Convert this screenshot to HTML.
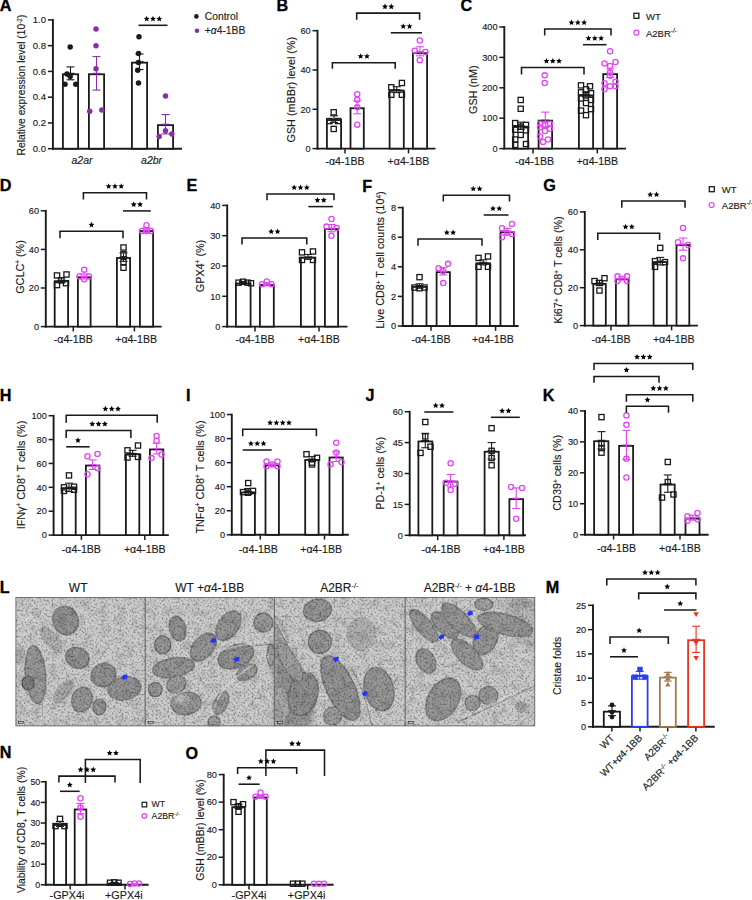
<!DOCTYPE html>
<html><head><meta charset="utf-8"><style>
html,body{margin:0;padding:0;background:#fff;width:752px;height:900px;overflow:hidden}
svg{display:block;font-family:"Liberation Sans", sans-serif}
</style></head><body>
<svg width="752" height="900" viewBox="0 0 752 900">
<rect width="752" height="900" fill="#fff"/>
<defs>
<filter id="spk" x="0" y="0" width="100%" height="100%" filterUnits="userSpaceOnUse" color-interpolation-filters="sRGB">
<feTurbulence type="fractalNoise" baseFrequency="1.1" numOctaves="2" seed="7" result="n"/>
<feColorMatrix in="n" type="matrix" values="0 0 0 0 0  0 0 0 0 0  0 0 0 0 0  8 0 0 0 -5.1" result="a"/>
<feComposite in="a" in2="SourceGraphic" operator="in"/>
</filter>
<filter id="spk2" x="0" y="0" width="100%" height="100%" filterUnits="userSpaceOnUse" color-interpolation-filters="sRGB">
<feTurbulence type="fractalNoise" baseFrequency="0.5" numOctaves="2" seed="21" result="n"/>
<feColorMatrix in="n" type="matrix" values="0 0 0 0 0  0 0 0 0 0  0 0 0 0 0  3.5 0 0 0 -1.6" result="a"/>
<feComposite in="a" in2="SourceGraphic" operator="in"/>
</filter>
<filter id="spk3" x="0" y="0" width="100%" height="100%" filterUnits="userSpaceOnUse" color-interpolation-filters="sRGB">
<feTurbulence type="fractalNoise" baseFrequency="0.12" numOctaves="2" seed="44" result="n"/>
<feColorMatrix in="n" type="matrix" values="0 0 0 0 0  0 0 0 0 0  0 0 0 0 0  3.5 0 0 0 -1.6" result="a"/>
<feComposite in="a" in2="SourceGraphic" operator="in"/>
</filter>
<filter id="bl2" x="-30%" y="-30%" width="160%" height="160%"><feGaussianBlur stdDeviation="2.5"/></filter>
<filter id="bl" x="-30%" y="-30%" width="160%" height="160%"><feGaussianBlur stdDeviation="0.6"/></filter>
<clipPath id="temclip"><rect x="15.6" y="597.3" width="519.5" height="128.9"/></clipPath>
</defs>
<g clip-path="url(#temclip)">
<rect x="15.6" y="597.3" width="519.5" height="128.9" fill="#cfcfcf"/>
<polygon points="274.7,620 283,640 295,658 306,676 314,700 312,726 274.7,726" fill="rgb(149,149,149)" filter="url(#bl2)"/>
<polygon points="500,600 535,600 535,650 515,640" fill="rgb(186,186,186)" filter="url(#bl2)"/>
<ellipse cx="65.5" cy="620.5" rx="12.5" ry="14.5" transform="rotate(-20 65.5 620.5)" fill="rgb(150,150,150)" stroke="rgb(112,112,112)" stroke-width="1.2" filter="url(#bl)"/>
<ellipse cx="51.3" cy="639.7" rx="16" ry="7" transform="rotate(50 51.3 639.7)" fill="rgb(180,180,180)" filter="url(#bl)"/>
<ellipse cx="77.4" cy="657.9" rx="12" ry="10" transform="rotate(25 77.4 657.9)" fill="rgb(150,150,150)" stroke="rgb(112,112,112)" stroke-width="1.2" filter="url(#bl)"/>
<ellipse cx="35.5" cy="674.7" rx="10" ry="29" transform="rotate(-5 35.5 674.7)" fill="rgb(156,156,156)" stroke="rgb(118,118,118)" stroke-width="1.2" filter="url(#bl)"/>
<ellipse cx="103.5" cy="675" rx="12.5" ry="11.5" transform="rotate(-25 103.5 675)" fill="rgb(150,150,150)" stroke="rgb(112,112,112)" stroke-width="1.2" filter="url(#bl)"/>
<ellipse cx="124.5" cy="688.5" rx="16.5" ry="11.5" transform="rotate(-10 124.5 688.5)" fill="rgb(150,150,150)" stroke="rgb(112,112,112)" stroke-width="1.2" filter="url(#bl)"/>
<ellipse cx="63" cy="691.4" rx="14" ry="7" transform="rotate(-50 63 691.4)" fill="rgb(174,174,174)" filter="url(#bl)"/>
<ellipse cx="82" cy="699.6" rx="10" ry="12.5" transform="rotate(20 82 699.6)" fill="rgb(153,153,153)" stroke="rgb(115,115,115)" stroke-width="1.2" filter="url(#bl)"/>
<ellipse cx="99.4" cy="707" rx="6.5" ry="8" transform="rotate(0 99.4 707)" fill="rgb(156,156,156)" stroke="rgb(118,118,118)" stroke-width="1.2" filter="url(#bl)"/>
<ellipse cx="28" cy="683" rx="6" ry="7" transform="rotate(0 28 683)" fill="rgb(131,131,131)" stroke="rgb(93,93,93)" stroke-width="1.2" filter="url(#bl)"/>
<ellipse cx="20" cy="655" rx="5" ry="10" transform="rotate(0 20 655)" fill="rgb(186,186,186)" filter="url(#bl)"/>
<ellipse cx="177.6" cy="628.5" rx="8" ry="12.5" transform="rotate(-15 177.6 628.5)" fill="rgb(150,150,150)" stroke="rgb(112,112,112)" stroke-width="1.2" filter="url(#bl)"/>
<ellipse cx="162.7" cy="644.9" rx="8" ry="9" transform="rotate(0 162.7 644.9)" fill="rgb(153,153,153)" stroke="rgb(115,115,115)" stroke-width="1.2" filter="url(#bl)"/>
<ellipse cx="173.5" cy="667.6" rx="21" ry="9.5" transform="rotate(-10 173.5 667.6)" fill="rgb(153,153,153)" stroke="rgb(115,115,115)" stroke-width="1.2" filter="url(#bl)"/>
<ellipse cx="203.3" cy="647.1" rx="16" ry="10" transform="rotate(-50 203.3 647.1)" fill="rgb(153,153,153)" stroke="rgb(115,115,115)" stroke-width="1.2" filter="url(#bl)"/>
<ellipse cx="228.4" cy="625.7" rx="16.5" ry="10" transform="rotate(-55 228.4 625.7)" fill="rgb(153,153,153)" stroke="rgb(115,115,115)" stroke-width="1.2" filter="url(#bl)"/>
<ellipse cx="235.9" cy="656.4" rx="18.5" ry="11" transform="rotate(-22 235.9 656.4)" fill="rgb(150,150,150)" stroke="rgb(112,112,112)" stroke-width="1.2" filter="url(#bl)"/>
<ellipse cx="263.3" cy="622.6" rx="9.5" ry="9.5" transform="rotate(0 263.3 622.6)" fill="rgb(156,156,156)" stroke="rgb(118,118,118)" stroke-width="1.2" filter="url(#bl)"/>
<ellipse cx="247" cy="672.3" rx="11" ry="7" transform="rotate(-30 247 672.3)" fill="rgb(159,159,159)" stroke="rgb(121,121,121)" stroke-width="1.2" filter="url(#bl)"/>
<ellipse cx="155.3" cy="689.6" rx="7" ry="7" transform="rotate(0 155.3 689.6)" fill="rgb(153,153,153)" stroke="rgb(115,115,115)" stroke-width="1.2" filter="url(#bl)"/>
<ellipse cx="176.3" cy="684.4" rx="10" ry="8.5" transform="rotate(-30 176.3 684.4)" fill="rgb(162,162,162)" stroke="rgb(124,124,124)" stroke-width="1.2" filter="url(#bl)"/>
<ellipse cx="186.2" cy="703.4" rx="15" ry="11" transform="rotate(-10 186.2 703.4)" fill="rgb(156,156,156)" stroke="rgb(118,118,118)" stroke-width="1.2" filter="url(#bl)"/>
<ellipse cx="221" cy="703" rx="6.5" ry="12" transform="rotate(25 221 703)" fill="rgb(156,156,156)" stroke="rgb(118,118,118)" stroke-width="1.2" filter="url(#bl)"/>
<ellipse cx="271" cy="655" rx="4" ry="11" transform="rotate(0 271 655)" fill="rgb(165,165,165)" stroke="rgb(127,127,127)" stroke-width="1.2" filter="url(#bl)"/>
<ellipse cx="214" cy="722" rx="6" ry="6" transform="rotate(0 214 722)" fill="rgb(159,159,159)" stroke="rgb(121,121,121)" stroke-width="1.2" filter="url(#bl)"/>
<ellipse cx="317.5" cy="610.3" rx="14" ry="11" transform="rotate(-10 317.5 610.3)" fill="rgb(153,153,153)" stroke="rgb(115,115,115)" stroke-width="1.2" filter="url(#bl)"/>
<ellipse cx="319.9" cy="641.9" rx="11.5" ry="11.5" transform="rotate(0 319.9 641.9)" fill="rgb(153,153,153)" stroke="rgb(115,115,115)" stroke-width="1.2" filter="url(#bl)"/>
<ellipse cx="340.4" cy="688.1" rx="14" ry="35" transform="rotate(-25 340.4 688.1)" fill="rgb(150,150,150)" stroke="rgb(112,112,112)" stroke-width="1.2" filter="url(#bl)"/>
<ellipse cx="378.9" cy="689" rx="14.5" ry="22" transform="rotate(-15 378.9 689)" fill="rgb(153,153,153)" stroke="rgb(115,115,115)" stroke-width="1.2" filter="url(#bl)"/>
<ellipse cx="303.1" cy="694" rx="14.5" ry="22" transform="rotate(15 303.1 694)" fill="rgb(147,147,147)" stroke="rgb(109,109,109)" stroke-width="1.2" filter="url(#bl)"/>
<ellipse cx="290" cy="662" rx="8" ry="22" transform="rotate(-30 290 662)" fill="rgb(162,162,162)" stroke="rgb(124,124,124)" stroke-width="1.2" filter="url(#bl)"/>
<ellipse cx="281" cy="630" rx="4" ry="16" transform="rotate(-25 281 630)" fill="rgb(177,177,177)" filter="url(#bl)"/>
<ellipse cx="361.2" cy="634.1" rx="15" ry="17" transform="rotate(0 361.2 634.1)" fill="rgb(180,180,180)" filter="url(#bl)"/>
<ellipse cx="332.7" cy="716" rx="9" ry="9" transform="rotate(0 332.7 716)" fill="rgb(159,159,159)" stroke="rgb(121,121,121)" stroke-width="1.2" filter="url(#bl)"/>
<ellipse cx="281" cy="706" rx="7" ry="18" transform="rotate(0 281 706)" fill="rgb(171,171,171)" filter="url(#bl)"/>
<ellipse cx="423.8" cy="625.7" rx="20" ry="7.5" transform="rotate(50 423.8 625.7)" fill="rgb(156,156,156)" stroke="rgb(118,118,118)" stroke-width="1.2" filter="url(#bl)"/>
<ellipse cx="444.7" cy="625.2" rx="17" ry="8" transform="rotate(45 444.7 625.2)" fill="rgb(153,153,153)" stroke="rgb(115,115,115)" stroke-width="1.2" filter="url(#bl)"/>
<ellipse cx="458.6" cy="620.1" rx="22" ry="9" transform="rotate(45 458.6 620.1)" fill="rgb(153,153,153)" stroke="rgb(115,115,115)" stroke-width="1.2" filter="url(#bl)"/>
<ellipse cx="485.6" cy="639.7" rx="16" ry="11" transform="rotate(-60 485.6 639.7)" fill="rgb(153,153,153)" stroke="rgb(115,115,115)" stroke-width="1.2" filter="url(#bl)"/>
<ellipse cx="467" cy="654.6" rx="20" ry="9" transform="rotate(45 467 654.6)" fill="rgb(156,156,156)" stroke="rgb(118,118,118)" stroke-width="1.2" filter="url(#bl)"/>
<ellipse cx="426" cy="661" rx="13" ry="9" transform="rotate(60 426 661)" fill="rgb(156,156,156)" stroke="rgb(118,118,118)" stroke-width="1.2" filter="url(#bl)"/>
<ellipse cx="443.2" cy="699.3" rx="23" ry="15" transform="rotate(-60 443.2 699.3)" fill="rgb(153,153,153)" stroke="rgb(115,115,115)" stroke-width="1.2" filter="url(#bl)"/>
<ellipse cx="472.6" cy="703" rx="7.5" ry="7.5" transform="rotate(0 472.6 703)" fill="rgb(159,159,159)" stroke="rgb(121,121,121)" stroke-width="1.2" filter="url(#bl)"/>
<ellipse cx="488.4" cy="695.5" rx="9.5" ry="9" transform="rotate(0 488.4 695.5)" fill="rgb(159,159,159)" stroke="rgb(121,121,121)" stroke-width="1.2" filter="url(#bl)"/>
<ellipse cx="505.2" cy="624.4" rx="28" ry="10" transform="rotate(15 505.2 624.4)" fill="rgb(156,156,156)" stroke="rgb(118,118,118)" stroke-width="1.2" filter="url(#bl)"/>
<ellipse cx="483.8" cy="604.3" rx="9" ry="6" transform="rotate(0 483.8 604.3)" fill="rgb(165,165,165)" stroke="rgb(127,127,127)" stroke-width="1.2" filter="url(#bl)"/>
<ellipse cx="522" cy="603.4" rx="12" ry="6" transform="rotate(0 522 603.4)" fill="rgb(171,171,171)" filter="url(#bl)"/>
<ellipse cx="521" cy="707" rx="6" ry="6" transform="rotate(0 521 707)" fill="rgb(171,171,171)" filter="url(#bl)"/>
<ellipse cx="181" cy="698" rx="6" ry="4.5" fill="rgb(195,195,195)" filter="url(#bl2)"/>
<ellipse cx="506" cy="675" rx="11" ry="9" fill="rgb(205,205,205)" filter="url(#bl2)"/>
<path d="M34.2,597.5 Q33,618 16,629" fill="none" stroke="#e2e2e2" stroke-width="1.6" opacity="0.6" filter="url(#bl)"/>
<path d="M19.3,613.2 a5.6,5.6 0 1,0 11.2,0 a5.6,5.6 0 1,0 -11.2,0" fill="none" stroke="#e2e2e2" stroke-width="1.6" opacity="0.6" filter="url(#bl)"/>
<path d="M16.5,636 L31.4,631" fill="none" stroke="#e2e2e2" stroke-width="1.6" opacity="0.6" filter="url(#bl)"/>
<path d="M218.2,650.9 Q245,643 270.3,641.5" fill="none" stroke="#e2e2e2" stroke-width="1.6" opacity="0.6" filter="url(#bl)"/>
<path d="M210.8,716 Q220,690 229.4,682.5 Q250,665 268.5,656.4" fill="none" stroke="#e2e2e2" stroke-width="1.6" opacity="0.6" filter="url(#bl)"/>
<path d="M275.6,619.2 Q290,650 307.2,673.2" fill="none" stroke="#e2e2e2" stroke-width="1.6" opacity="0.6" filter="url(#bl)"/>
<path d="M457.8,719.2 Q500,700 534.7,683" fill="none" stroke="#e2e2e2" stroke-width="1.6" opacity="0.6" filter="url(#bl)"/>
<path d="M40,720 Q60,712 80,722" fill="none" stroke="#e2e2e2" stroke-width="1.6" opacity="0.6" filter="url(#bl)"/>
<path d="M220,653 Q245,646 270.3,644" fill="none" stroke="#7c7c7c" stroke-width="0.9" opacity="0.8" filter="url(#bl)"/>
<path d="M350,665.7 Q365,690 371.5,725.3" fill="none" stroke="#7c7c7c" stroke-width="0.9" opacity="0.8" filter="url(#bl)"/>
<path d="M457.8,722 Q500,703 534.7,686" fill="none" stroke="#7c7c7c" stroke-width="0.9" opacity="0.8" filter="url(#bl)"/>
<path d="M277,625 Q292,655 309,678" fill="none" stroke="#7c7c7c" stroke-width="0.9" opacity="0.8" filter="url(#bl)"/>
<rect x="15.6" y="597.3" width="519.5" height="128.9" fill="#000" filter="url(#spk)" opacity="0.2"/>
<rect x="15.6" y="597.3" width="519.5" height="128.9" fill="#fff" filter="url(#spk2)" opacity="0.28"/>
<rect x="15.6" y="597.3" width="519.5" height="128.9" fill="#000" filter="url(#spk3)" opacity="0.1"/>
</g>
<rect x="15.9" y="597.6" width="518.9" height="128.3" fill="none" stroke="#525a68" stroke-width="0.8"/>
<rect x="18.6" y="721.6" width="5" height="1.6" fill="#ddd" stroke="#111" stroke-width="0.6"/>
<line x1="145.2" y1="597.3" x2="145.2" y2="726.2" stroke="#525a68" stroke-width="0.9"/>
<rect x="148.2" y="721.6" width="5" height="1.6" fill="#ddd" stroke="#111" stroke-width="0.6"/>
<line x1="274.4" y1="597.3" x2="274.4" y2="726.2" stroke="#525a68" stroke-width="0.9"/>
<rect x="277.4" y="721.6" width="5" height="1.6" fill="#ddd" stroke="#111" stroke-width="0.6"/>
<line x1="405.2" y1="597.3" x2="405.2" y2="726.2" stroke="#525a68" stroke-width="0.9"/>
<rect x="408.2" y="721.6" width="5" height="1.6" fill="#ddd" stroke="#111" stroke-width="0.6"/>
<polygon points="-2.8,-1.9 0.6,-1.9 -0.6,-3.4 3.2,0.2 0.2,3.4 -0.6,1.9 -2.8,1.9" transform="translate(124.7 676.7) rotate(-40)" fill="#2233ff"/>
<polygon points="-2.8,-1.9 0.6,-1.9 -0.6,-3.4 3.2,0.2 0.2,3.4 -0.6,1.9 -2.8,1.9" transform="translate(213.5 640.3) rotate(-40)" fill="#2233ff"/>
<polygon points="-2.8,-1.9 0.6,-1.9 -0.6,-3.4 3.2,0.2 0.2,3.4 -0.6,1.9 -2.8,1.9" transform="translate(236.8 658.9) rotate(-40)" fill="#2233ff"/>
<polygon points="-2.8,-1.9 0.6,-1.9 -0.6,-3.4 3.2,0.2 0.2,3.4 -0.6,1.9 -2.8,1.9" transform="translate(336.1 658.9) rotate(-40)" fill="#2233ff"/>
<polygon points="-2.8,-1.9 0.6,-1.9 -0.6,-3.4 3.2,0.2 0.2,3.4 -0.6,1.9 -2.8,1.9" transform="translate(365 693.3) rotate(-40)" fill="#2233ff"/>
<polygon points="-2.8,-1.9 0.6,-1.9 -0.6,-3.4 3.2,0.2 0.2,3.4 -0.6,1.9 -2.8,1.9" transform="translate(470.2 613) rotate(-40)" fill="#2233ff"/>
<polygon points="-2.8,-1.9 0.6,-1.9 -0.6,-3.4 3.2,0.2 0.2,3.4 -0.6,1.9 -2.8,1.9" transform="translate(441.5 636.7) rotate(-40)" fill="#2233ff"/>
<polygon points="-2.8,-1.9 0.6,-1.9 -0.6,-3.4 3.2,0.2 0.2,3.4 -0.6,1.9 -2.8,1.9" transform="translate(476.6 636.7) rotate(-40)" fill="#2233ff"/>
<text x="-0.20" y="11.20" font-size="16.2" text-anchor="start" font-weight="bold" font-style="normal" fill="#000" stroke="#000" stroke-width="0.3">A</text>
<line x1="52.90" y1="149.60" x2="52.90" y2="19.00" stroke="#1a1a1a" stroke-width="1.9" stroke-linecap="butt"/>
<line x1="51.95" y1="148.70" x2="182.00" y2="148.70" stroke="#1a1a1a" stroke-width="1.9" stroke-linecap="butt"/>
<line x1="47.90" y1="148.70" x2="52.90" y2="148.70" stroke="#1a1a1a" stroke-width="1.5" stroke-linecap="butt"/>
<text x="46.10" y="151.90" font-size="9.6" text-anchor="end" font-weight="normal" font-style="normal" fill="#1a1a1a" stroke="#1a1a1a" stroke-width="0.14">0.0</text>
<line x1="47.90" y1="122.94" x2="52.90" y2="122.94" stroke="#1a1a1a" stroke-width="1.5" stroke-linecap="butt"/>
<text x="46.10" y="126.14" font-size="9.6" text-anchor="end" font-weight="normal" font-style="normal" fill="#1a1a1a" stroke="#1a1a1a" stroke-width="0.14">0.2</text>
<line x1="47.90" y1="97.18" x2="52.90" y2="97.18" stroke="#1a1a1a" stroke-width="1.5" stroke-linecap="butt"/>
<text x="46.10" y="100.38" font-size="9.6" text-anchor="end" font-weight="normal" font-style="normal" fill="#1a1a1a" stroke="#1a1a1a" stroke-width="0.14">0.4</text>
<line x1="47.90" y1="71.42" x2="52.90" y2="71.42" stroke="#1a1a1a" stroke-width="1.5" stroke-linecap="butt"/>
<text x="46.10" y="74.62" font-size="9.6" text-anchor="end" font-weight="normal" font-style="normal" fill="#1a1a1a" stroke="#1a1a1a" stroke-width="0.14">0.6</text>
<line x1="47.90" y1="45.66" x2="52.90" y2="45.66" stroke="#1a1a1a" stroke-width="1.5" stroke-linecap="butt"/>
<text x="46.10" y="48.86" font-size="9.6" text-anchor="end" font-weight="normal" font-style="normal" fill="#1a1a1a" stroke="#1a1a1a" stroke-width="0.14">0.8</text>
<line x1="47.90" y1="19.90" x2="52.90" y2="19.90" stroke="#1a1a1a" stroke-width="1.5" stroke-linecap="butt"/>
<text x="46.10" y="23.10" font-size="9.6" text-anchor="end" font-weight="normal" font-style="normal" fill="#1a1a1a" stroke="#1a1a1a" stroke-width="0.14">1.0</text>
<text x="24.50" y="85.00" font-size="10.3" text-anchor="middle" font-weight="normal" font-style="normal" fill="#1a1a1a" stroke="#1a1a1a" stroke-width="0.14" transform="rotate(-90 24.50 85.00)">Relative expression level (10<tspan dy="-3" font-size="6.5">-2</tspan><tspan dy="3">)</tspan></text>
<text x="82.00" y="163.90" font-size="10.5" text-anchor="middle" font-weight="normal" font-style="italic" fill="#1a1a1a" stroke="#1a1a1a" stroke-width="0.14">a2ar</text>
<text x="151.60" y="163.90" font-size="10.5" text-anchor="middle" font-weight="normal" font-style="italic" fill="#1a1a1a" stroke="#1a1a1a" stroke-width="0.14">a2br</text>
<rect x="62.90" y="74.25" width="15.20" height="74.45" fill="#fff" stroke="#1a1a1a" stroke-width="1.8"/>
<rect x="88.90" y="74.25" width="15.20" height="74.45" fill="#fff" stroke="#1a1a1a" stroke-width="1.8"/>
<rect x="131.90" y="62.66" width="15.20" height="86.04" fill="#fff" stroke="#1a1a1a" stroke-width="1.8"/>
<rect x="157.90" y="125.13" width="15.20" height="23.57" fill="#fff" stroke="#1a1a1a" stroke-width="1.8"/>
<line x1="70.50" y1="79.79" x2="70.50" y2="66.91" stroke="#1a1a1a" stroke-width="1.1" stroke-linecap="butt"/>
<line x1="66.50" y1="66.91" x2="74.50" y2="66.91" stroke="#1a1a1a" stroke-width="1.1" stroke-linecap="butt"/>
<line x1="66.50" y1="79.79" x2="74.50" y2="79.79" stroke="#1a1a1a" stroke-width="1.1" stroke-linecap="butt"/>
<line x1="66.50" y1="73.35" x2="74.50" y2="73.35" stroke="#1a1a1a" stroke-width="1.1" stroke-linecap="butt"/>
<line x1="96.50" y1="90.10" x2="96.50" y2="56.61" stroke="#8a2ea6" stroke-width="1.1" stroke-linecap="butt"/>
<line x1="92.50" y1="56.61" x2="100.50" y2="56.61" stroke="#8a2ea6" stroke-width="1.1" stroke-linecap="butt"/>
<line x1="92.50" y1="90.10" x2="100.50" y2="90.10" stroke="#8a2ea6" stroke-width="1.1" stroke-linecap="butt"/>
<line x1="92.50" y1="73.35" x2="100.50" y2="73.35" stroke="#8a2ea6" stroke-width="1.1" stroke-linecap="butt"/>
<line x1="139.50" y1="69.49" x2="139.50" y2="54.03" stroke="#1a1a1a" stroke-width="1.1" stroke-linecap="butt"/>
<line x1="135.50" y1="54.03" x2="143.50" y2="54.03" stroke="#1a1a1a" stroke-width="1.1" stroke-linecap="butt"/>
<line x1="135.50" y1="69.49" x2="143.50" y2="69.49" stroke="#1a1a1a" stroke-width="1.1" stroke-linecap="butt"/>
<line x1="135.50" y1="61.76" x2="143.50" y2="61.76" stroke="#1a1a1a" stroke-width="1.1" stroke-linecap="butt"/>
<line x1="165.50" y1="133.89" x2="165.50" y2="114.57" stroke="#8a2ea6" stroke-width="1.1" stroke-linecap="butt"/>
<line x1="161.50" y1="114.57" x2="169.50" y2="114.57" stroke="#8a2ea6" stroke-width="1.1" stroke-linecap="butt"/>
<line x1="161.50" y1="133.89" x2="169.50" y2="133.89" stroke="#8a2ea6" stroke-width="1.1" stroke-linecap="butt"/>
<line x1="161.50" y1="124.23" x2="169.50" y2="124.23" stroke="#8a2ea6" stroke-width="1.1" stroke-linecap="butt"/>
<circle cx="70.20" cy="46.95" r="2.75" fill="#1a1a1a"/>
<circle cx="65.00" cy="84.30" r="2.75" fill="#1a1a1a"/>
<circle cx="70.20" cy="76.57" r="2.75" fill="#1a1a1a"/>
<circle cx="75.80" cy="84.30" r="2.75" fill="#1a1a1a"/>
<circle cx="67.00" cy="74.00" r="2.75" fill="#1a1a1a"/>
<circle cx="96.00" cy="28.92" r="2.75" fill="#8a2ea6"/>
<circle cx="96.00" cy="45.66" r="2.75" fill="#8a2ea6"/>
<circle cx="96.00" cy="68.84" r="2.75" fill="#8a2ea6"/>
<circle cx="89.70" cy="111.35" r="2.75" fill="#8a2ea6"/>
<circle cx="101.80" cy="110.06" r="2.75" fill="#8a2ea6"/>
<circle cx="139.00" cy="36.64" r="2.75" fill="#1a1a1a"/>
<circle cx="138.50" cy="53.39" r="2.75" fill="#1a1a1a"/>
<circle cx="138.50" cy="62.40" r="2.75" fill="#1a1a1a"/>
<circle cx="137.70" cy="70.13" r="2.75" fill="#1a1a1a"/>
<circle cx="138.50" cy="83.01" r="2.75" fill="#1a1a1a"/>
<circle cx="165.50" cy="95.89" r="2.75" fill="#8a2ea6"/>
<circle cx="165.50" cy="130.67" r="2.75" fill="#8a2ea6"/>
<circle cx="159.20" cy="136.46" r="2.75" fill="#8a2ea6"/>
<circle cx="171.80" cy="133.89" r="2.75" fill="#8a2ea6"/>
<line x1="138.50" y1="25.30" x2="167.50" y2="25.30" stroke="#1a1a1a" stroke-width="1.55" stroke-linecap="butt"/>
<polygon points="146.70,15.80 147.54,17.75 149.65,17.94 148.06,19.34 148.52,21.41 146.70,20.33 144.88,21.41 145.34,19.34 143.75,17.94 145.86,17.75" fill="#000"/>
<polygon points="153.00,15.80 153.84,17.75 155.95,17.94 154.36,19.34 154.82,21.41 153.00,20.33 151.18,21.41 151.64,19.34 150.05,17.94 152.16,17.75" fill="#000"/>
<polygon points="159.30,15.80 160.14,17.75 162.25,17.94 160.66,19.34 161.12,21.41 159.30,20.33 157.48,21.41 157.94,19.34 156.35,17.94 158.46,17.75" fill="#000"/>
<circle cx="196.4" cy="16.4" r="2.3" fill="#1a1a1a"/>
<text x="204.80" y="19.80" font-size="10.3" text-anchor="start" font-weight="normal" font-style="normal" fill="#1a1a1a" stroke="#1a1a1a" stroke-width="0.14">Control</text>
<circle cx="197" cy="30.8" r="2.3" fill="#8a2ea6"/>
<text x="204.80" y="34.30" font-size="10.3" text-anchor="start" font-weight="normal" font-style="normal" fill="#1a1a1a" stroke="#1a1a1a" stroke-width="0.14">+<tspan font-style="italic">&#945;</tspan>4-1BB</text>
<text x="276.50" y="11.20" font-size="16.2" text-anchor="start" font-weight="bold" font-style="normal" fill="#000" stroke="#000" stroke-width="0.3">B</text>
<line x1="317.50" y1="149.50" x2="317.50" y2="29.80" stroke="#1a1a1a" stroke-width="1.9" stroke-linecap="butt"/>
<line x1="316.55" y1="148.60" x2="435.50" y2="148.60" stroke="#1a1a1a" stroke-width="1.9" stroke-linecap="butt"/>
<line x1="312.50" y1="148.60" x2="317.50" y2="148.60" stroke="#1a1a1a" stroke-width="1.5" stroke-linecap="butt"/>
<text x="310.70" y="151.80" font-size="9.2" text-anchor="end" font-weight="normal" font-style="normal" fill="#1a1a1a" stroke="#1a1a1a" stroke-width="0.14">0</text>
<line x1="312.50" y1="109.30" x2="317.50" y2="109.30" stroke="#1a1a1a" stroke-width="1.5" stroke-linecap="butt"/>
<text x="310.70" y="112.50" font-size="9.2" text-anchor="end" font-weight="normal" font-style="normal" fill="#1a1a1a" stroke="#1a1a1a" stroke-width="0.14">20</text>
<line x1="312.50" y1="70.00" x2="317.50" y2="70.00" stroke="#1a1a1a" stroke-width="1.5" stroke-linecap="butt"/>
<text x="310.70" y="73.20" font-size="9.2" text-anchor="end" font-weight="normal" font-style="normal" fill="#1a1a1a" stroke="#1a1a1a" stroke-width="0.14">40</text>
<line x1="312.50" y1="30.70" x2="317.50" y2="30.70" stroke="#1a1a1a" stroke-width="1.5" stroke-linecap="butt"/>
<text x="310.70" y="33.90" font-size="9.2" text-anchor="end" font-weight="normal" font-style="normal" fill="#1a1a1a" stroke="#1a1a1a" stroke-width="0.14">60</text>
<line x1="345.00" y1="148.60" x2="345.00" y2="153.40" stroke="#1a1a1a" stroke-width="1.5" stroke-linecap="butt"/>
<line x1="408.50" y1="148.60" x2="408.50" y2="153.40" stroke="#1a1a1a" stroke-width="1.5" stroke-linecap="butt"/>
<text x="345.00" y="164.70" font-size="10.6" text-anchor="middle" font-weight="normal" font-style="normal" fill="#1a1a1a" stroke="#1a1a1a" stroke-width="0.14">-&#945;4-1BB</text>
<text x="408.50" y="164.70" font-size="10.6" text-anchor="middle" font-weight="normal" font-style="normal" fill="#1a1a1a" stroke="#1a1a1a" stroke-width="0.14">+&#945;4-1BB</text>
<text x="295.50" y="89.70" font-size="10.8" text-anchor="middle" font-weight="normal" font-style="normal" fill="#1a1a1a" stroke="#1a1a1a" stroke-width="0.14" transform="rotate(-90 295.50 89.70)">GSH (mBBr) level (%)</text>
<rect x="326.90" y="120.03" width="14.20" height="28.57" fill="#fff" stroke="#1a1a1a" stroke-width="1.8"/>
<rect x="350.50" y="108.23" width="13.30" height="40.37" fill="#fff" stroke="#1a1a1a" stroke-width="1.8"/>
<rect x="389.60" y="90.55" width="14.20" height="58.05" fill="#fff" stroke="#1a1a1a" stroke-width="1.8"/>
<rect x="412.90" y="53.21" width="14.20" height="95.38" fill="#fff" stroke="#1a1a1a" stroke-width="1.8"/>
<line x1="334.00" y1="122.47" x2="334.00" y2="115.78" stroke="#1a1a1a" stroke-width="1.1" stroke-linecap="butt"/>
<line x1="330.00" y1="115.78" x2="338.00" y2="115.78" stroke="#1a1a1a" stroke-width="1.1" stroke-linecap="butt"/>
<line x1="330.00" y1="122.47" x2="338.00" y2="122.47" stroke="#1a1a1a" stroke-width="1.1" stroke-linecap="butt"/>
<line x1="330.00" y1="119.12" x2="338.00" y2="119.12" stroke="#1a1a1a" stroke-width="1.1" stroke-linecap="butt"/>
<line x1="357.20" y1="113.82" x2="357.20" y2="100.85" stroke="#e046f2" stroke-width="1.1" stroke-linecap="butt"/>
<line x1="353.20" y1="100.85" x2="361.20" y2="100.85" stroke="#e046f2" stroke-width="1.1" stroke-linecap="butt"/>
<line x1="353.20" y1="113.82" x2="361.20" y2="113.82" stroke="#e046f2" stroke-width="1.1" stroke-linecap="butt"/>
<line x1="353.20" y1="107.33" x2="361.20" y2="107.33" stroke="#e046f2" stroke-width="1.1" stroke-linecap="butt"/>
<line x1="396.70" y1="92.60" x2="396.70" y2="86.70" stroke="#1a1a1a" stroke-width="1.1" stroke-linecap="butt"/>
<line x1="392.70" y1="86.70" x2="400.70" y2="86.70" stroke="#1a1a1a" stroke-width="1.1" stroke-linecap="butt"/>
<line x1="392.70" y1="92.60" x2="400.70" y2="92.60" stroke="#1a1a1a" stroke-width="1.1" stroke-linecap="butt"/>
<line x1="392.70" y1="89.65" x2="400.70" y2="89.65" stroke="#1a1a1a" stroke-width="1.1" stroke-linecap="butt"/>
<line x1="420.00" y1="55.85" x2="420.00" y2="46.81" stroke="#e046f2" stroke-width="1.1" stroke-linecap="butt"/>
<line x1="416.00" y1="46.81" x2="424.00" y2="46.81" stroke="#e046f2" stroke-width="1.1" stroke-linecap="butt"/>
<line x1="416.00" y1="55.85" x2="424.00" y2="55.85" stroke="#e046f2" stroke-width="1.1" stroke-linecap="butt"/>
<line x1="416.00" y1="51.33" x2="424.00" y2="51.33" stroke="#e046f2" stroke-width="1.1" stroke-linecap="butt"/>
<rect x="331.10" y="109.65" width="5.2" height="5.2" fill="none" stroke="#1a1a1a" stroke-width="1.3"/>
<rect x="326.80" y="118.49" width="5.2" height="5.2" fill="none" stroke="#1a1a1a" stroke-width="1.3"/>
<rect x="335.60" y="118.49" width="5.2" height="5.2" fill="none" stroke="#1a1a1a" stroke-width="1.3"/>
<rect x="331.10" y="126.35" width="5.2" height="5.2" fill="none" stroke="#1a1a1a" stroke-width="1.3"/>
<circle cx="357.20" cy="94.17" r="2.6" fill="none" stroke="#e046f2" stroke-width="1.3"/>
<circle cx="357.20" cy="99.87" r="2.6" fill="none" stroke="#e046f2" stroke-width="1.3"/>
<circle cx="357.20" cy="107.33" r="2.6" fill="none" stroke="#e046f2" stroke-width="1.3"/>
<circle cx="357.20" cy="124.63" r="2.6" fill="none" stroke="#e046f2" stroke-width="1.3"/>
<rect x="388.70" y="84.69" width="5.2" height="5.2" fill="none" stroke="#1a1a1a" stroke-width="1.3"/>
<rect x="399.30" y="80.37" width="5.2" height="5.2" fill="none" stroke="#1a1a1a" stroke-width="1.3"/>
<rect x="388.70" y="92.16" width="5.2" height="5.2" fill="none" stroke="#1a1a1a" stroke-width="1.3"/>
<rect x="399.30" y="92.16" width="5.2" height="5.2" fill="none" stroke="#1a1a1a" stroke-width="1.3"/>
<circle cx="419.80" cy="40.53" r="2.6" fill="none" stroke="#e046f2" stroke-width="1.3"/>
<circle cx="414.80" cy="50.74" r="2.6" fill="none" stroke="#e046f2" stroke-width="1.3"/>
<circle cx="425.40" cy="51.92" r="2.6" fill="none" stroke="#e046f2" stroke-width="1.3"/>
<circle cx="419.80" cy="60.17" r="2.6" fill="none" stroke="#e046f2" stroke-width="1.3"/>
<polyline points="356.70,19.70 356.70,13.10 419.60,13.10 419.60,19.70" fill="none" stroke="#1a1a1a" stroke-width="1.55" stroke-linejoin="miter"/>
<polygon points="385.00,3.60 385.84,5.55 387.95,5.74 386.36,7.14 386.82,9.21 385.00,8.13 383.18,9.21 383.64,7.14 382.05,5.74 384.16,5.55" fill="#000"/>
<polygon points="391.30,3.60 392.14,5.55 394.25,5.74 392.66,7.14 393.12,9.21 391.30,8.13 389.48,9.21 389.94,7.14 388.35,5.74 390.46,5.55" fill="#000"/>
<line x1="390.80" y1="32.80" x2="422.00" y2="32.80" stroke="#1a1a1a" stroke-width="1.55" stroke-linecap="butt"/>
<polygon points="403.25,23.30 404.09,25.25 406.20,25.44 404.61,26.84 405.07,28.91 403.25,27.83 401.43,28.91 401.89,26.84 400.30,25.44 402.41,25.25" fill="#000"/>
<polygon points="409.55,23.30 410.39,25.25 412.50,25.44 410.91,26.84 411.37,28.91 409.55,27.83 407.73,28.91 408.19,26.84 406.60,25.44 408.71,25.25" fill="#000"/>
<polyline points="332.40,68.70 332.40,62.70 395.20,62.70 395.20,68.70" fill="none" stroke="#1a1a1a" stroke-width="1.55" stroke-linejoin="miter"/>
<polygon points="360.65,53.20 361.49,55.15 363.60,55.34 362.01,56.74 362.47,58.81 360.65,57.73 358.83,58.81 359.29,56.74 357.70,55.34 359.81,55.15" fill="#000"/>
<polygon points="366.95,53.20 367.79,55.15 369.90,55.34 368.31,56.74 368.77,58.81 366.95,57.73 365.13,58.81 365.59,56.74 364.00,55.34 366.11,55.15" fill="#000"/>
<text x="460.40" y="11.20" font-size="16.2" text-anchor="start" font-weight="bold" font-style="normal" fill="#000" stroke="#000" stroke-width="0.3">C</text>
<line x1="504.30" y1="149.50" x2="504.30" y2="26.10" stroke="#1a1a1a" stroke-width="1.9" stroke-linecap="butt"/>
<line x1="503.35" y1="148.60" x2="626.00" y2="148.60" stroke="#1a1a1a" stroke-width="1.9" stroke-linecap="butt"/>
<line x1="499.30" y1="148.60" x2="504.30" y2="148.60" stroke="#1a1a1a" stroke-width="1.5" stroke-linecap="butt"/>
<text x="497.50" y="151.80" font-size="9.2" text-anchor="end" font-weight="normal" font-style="normal" fill="#1a1a1a" stroke="#1a1a1a" stroke-width="0.14">0</text>
<line x1="499.30" y1="118.20" x2="504.30" y2="118.20" stroke="#1a1a1a" stroke-width="1.5" stroke-linecap="butt"/>
<text x="497.50" y="121.40" font-size="9.2" text-anchor="end" font-weight="normal" font-style="normal" fill="#1a1a1a" stroke="#1a1a1a" stroke-width="0.14">100</text>
<line x1="499.30" y1="87.80" x2="504.30" y2="87.80" stroke="#1a1a1a" stroke-width="1.5" stroke-linecap="butt"/>
<text x="497.50" y="91.00" font-size="9.2" text-anchor="end" font-weight="normal" font-style="normal" fill="#1a1a1a" stroke="#1a1a1a" stroke-width="0.14">200</text>
<line x1="499.30" y1="57.40" x2="504.30" y2="57.40" stroke="#1a1a1a" stroke-width="1.5" stroke-linecap="butt"/>
<text x="497.50" y="60.60" font-size="9.2" text-anchor="end" font-weight="normal" font-style="normal" fill="#1a1a1a" stroke="#1a1a1a" stroke-width="0.14">300</text>
<line x1="499.30" y1="27.00" x2="504.30" y2="27.00" stroke="#1a1a1a" stroke-width="1.5" stroke-linecap="butt"/>
<text x="497.50" y="30.20" font-size="9.2" text-anchor="end" font-weight="normal" font-style="normal" fill="#1a1a1a" stroke="#1a1a1a" stroke-width="0.14">400</text>
<line x1="533.00" y1="148.60" x2="533.00" y2="153.40" stroke="#1a1a1a" stroke-width="1.5" stroke-linecap="butt"/>
<line x1="597.30" y1="148.60" x2="597.30" y2="153.40" stroke="#1a1a1a" stroke-width="1.5" stroke-linecap="butt"/>
<text x="534.50" y="164.70" font-size="10.6" text-anchor="middle" font-weight="normal" font-style="normal" fill="#1a1a1a" stroke="#1a1a1a" stroke-width="0.14">-&#945;4-1BB</text>
<text x="597.30" y="164.70" font-size="10.6" text-anchor="middle" font-weight="normal" font-style="normal" fill="#1a1a1a" stroke="#1a1a1a" stroke-width="0.14">+&#945;4-1BB</text>
<text x="477.50" y="89.70" font-size="10.8" text-anchor="middle" font-weight="normal" font-style="normal" fill="#1a1a1a" stroke="#1a1a1a" stroke-width="0.14" transform="rotate(-90 477.50 89.70)">GSH (nM)</text>
<rect x="513.30" y="126.70" width="14.80" height="21.90" fill="#fff" stroke="#1a1a1a" stroke-width="1.8"/>
<rect x="538.60" y="120.62" width="13.50" height="27.98" fill="#fff" stroke="#1a1a1a" stroke-width="1.8"/>
<rect x="578.90" y="95.39" width="14.20" height="53.21" fill="#fff" stroke="#1a1a1a" stroke-width="1.8"/>
<rect x="603.20" y="74.11" width="13.90" height="74.49" fill="#fff" stroke="#1a1a1a" stroke-width="1.8"/>
<line x1="520.70" y1="129.45" x2="520.70" y2="122.15" stroke="#1a1a1a" stroke-width="1.1" stroke-linecap="butt"/>
<line x1="516.70" y1="122.15" x2="524.70" y2="122.15" stroke="#1a1a1a" stroke-width="1.1" stroke-linecap="butt"/>
<line x1="516.70" y1="129.45" x2="524.70" y2="129.45" stroke="#1a1a1a" stroke-width="1.1" stroke-linecap="butt"/>
<line x1="516.70" y1="125.80" x2="524.70" y2="125.80" stroke="#1a1a1a" stroke-width="1.1" stroke-linecap="butt"/>
<line x1="545.30" y1="127.32" x2="545.30" y2="112.12" stroke="#e046f2" stroke-width="1.1" stroke-linecap="butt"/>
<line x1="541.30" y1="112.12" x2="549.30" y2="112.12" stroke="#e046f2" stroke-width="1.1" stroke-linecap="butt"/>
<line x1="541.30" y1="127.32" x2="549.30" y2="127.32" stroke="#e046f2" stroke-width="1.1" stroke-linecap="butt"/>
<line x1="541.30" y1="119.72" x2="549.30" y2="119.72" stroke="#e046f2" stroke-width="1.1" stroke-linecap="butt"/>
<line x1="586.00" y1="96.92" x2="586.00" y2="92.06" stroke="#1a1a1a" stroke-width="1.1" stroke-linecap="butt"/>
<line x1="582.00" y1="92.06" x2="590.00" y2="92.06" stroke="#1a1a1a" stroke-width="1.1" stroke-linecap="butt"/>
<line x1="582.00" y1="96.92" x2="590.00" y2="96.92" stroke="#1a1a1a" stroke-width="1.1" stroke-linecap="butt"/>
<line x1="582.00" y1="94.49" x2="590.00" y2="94.49" stroke="#1a1a1a" stroke-width="1.1" stroke-linecap="butt"/>
<line x1="610.20" y1="77.46" x2="610.20" y2="68.95" stroke="#e046f2" stroke-width="1.1" stroke-linecap="butt"/>
<line x1="606.20" y1="68.95" x2="614.20" y2="68.95" stroke="#e046f2" stroke-width="1.1" stroke-linecap="butt"/>
<line x1="606.20" y1="77.46" x2="614.20" y2="77.46" stroke="#e046f2" stroke-width="1.1" stroke-linecap="butt"/>
<line x1="606.20" y1="73.21" x2="614.20" y2="73.21" stroke="#e046f2" stroke-width="1.1" stroke-linecap="butt"/>
<rect x="518.10" y="97.36" width="5.2" height="5.2" fill="none" stroke="#1a1a1a" stroke-width="1.3"/>
<rect x="518.10" y="106.18" width="5.2" height="5.2" fill="none" stroke="#1a1a1a" stroke-width="1.3"/>
<rect x="512.60" y="120.46" width="5.2" height="5.2" fill="none" stroke="#1a1a1a" stroke-width="1.3"/>
<rect x="523.40" y="122.29" width="5.2" height="5.2" fill="none" stroke="#1a1a1a" stroke-width="1.3"/>
<rect x="518.10" y="124.11" width="5.2" height="5.2" fill="none" stroke="#1a1a1a" stroke-width="1.3"/>
<rect x="512.60" y="127.15" width="5.2" height="5.2" fill="none" stroke="#1a1a1a" stroke-width="1.3"/>
<rect x="523.40" y="127.76" width="5.2" height="5.2" fill="none" stroke="#1a1a1a" stroke-width="1.3"/>
<rect x="518.10" y="132.32" width="5.2" height="5.2" fill="none" stroke="#1a1a1a" stroke-width="1.3"/>
<rect x="512.60" y="136.88" width="5.2" height="5.2" fill="none" stroke="#1a1a1a" stroke-width="1.3"/>
<rect x="523.40" y="141.44" width="5.2" height="5.2" fill="none" stroke="#1a1a1a" stroke-width="1.3"/>
<rect x="512.60" y="142.35" width="5.2" height="5.2" fill="none" stroke="#1a1a1a" stroke-width="1.3"/>
<circle cx="544.70" cy="75.34" r="2.6" fill="none" stroke="#e046f2" stroke-width="1.3"/>
<circle cx="544.70" cy="82.94" r="2.6" fill="none" stroke="#e046f2" stroke-width="1.3"/>
<circle cx="540.00" cy="123.67" r="2.6" fill="none" stroke="#e046f2" stroke-width="1.3"/>
<circle cx="550.00" cy="123.67" r="2.6" fill="none" stroke="#e046f2" stroke-width="1.3"/>
<circle cx="545.00" cy="124.89" r="2.6" fill="none" stroke="#e046f2" stroke-width="1.3"/>
<circle cx="540.00" cy="127.32" r="2.6" fill="none" stroke="#e046f2" stroke-width="1.3"/>
<circle cx="550.00" cy="128.84" r="2.6" fill="none" stroke="#e046f2" stroke-width="1.3"/>
<circle cx="545.00" cy="130.97" r="2.6" fill="none" stroke="#e046f2" stroke-width="1.3"/>
<circle cx="540.00" cy="136.44" r="2.6" fill="none" stroke="#e046f2" stroke-width="1.3"/>
<circle cx="548.00" cy="139.48" r="2.6" fill="none" stroke="#e046f2" stroke-width="1.3"/>
<circle cx="543.00" cy="141.91" r="2.6" fill="none" stroke="#e046f2" stroke-width="1.3"/>
<rect x="578.40" y="82.77" width="5.2" height="5.2" fill="none" stroke="#1a1a1a" stroke-width="1.3"/>
<rect x="587.40" y="83.68" width="5.2" height="5.2" fill="none" stroke="#1a1a1a" stroke-width="1.3"/>
<rect x="583.40" y="86.72" width="5.2" height="5.2" fill="none" stroke="#1a1a1a" stroke-width="1.3"/>
<rect x="578.40" y="89.76" width="5.2" height="5.2" fill="none" stroke="#1a1a1a" stroke-width="1.3"/>
<rect x="588.40" y="90.67" width="5.2" height="5.2" fill="none" stroke="#1a1a1a" stroke-width="1.3"/>
<rect x="583.40" y="92.80" width="5.2" height="5.2" fill="none" stroke="#1a1a1a" stroke-width="1.3"/>
<rect x="578.40" y="95.84" width="5.2" height="5.2" fill="none" stroke="#1a1a1a" stroke-width="1.3"/>
<rect x="588.40" y="97.36" width="5.2" height="5.2" fill="none" stroke="#1a1a1a" stroke-width="1.3"/>
<rect x="583.40" y="100.40" width="5.2" height="5.2" fill="none" stroke="#1a1a1a" stroke-width="1.3"/>
<rect x="578.40" y="108.00" width="5.2" height="5.2" fill="none" stroke="#1a1a1a" stroke-width="1.3"/>
<rect x="588.40" y="106.48" width="5.2" height="5.2" fill="none" stroke="#1a1a1a" stroke-width="1.3"/>
<rect x="583.40" y="112.56" width="5.2" height="5.2" fill="none" stroke="#1a1a1a" stroke-width="1.3"/>
<circle cx="610.00" cy="51.32" r="2.6" fill="none" stroke="#e046f2" stroke-width="1.3"/>
<circle cx="604.50" cy="63.48" r="2.6" fill="none" stroke="#e046f2" stroke-width="1.3"/>
<circle cx="610.00" cy="65.91" r="2.6" fill="none" stroke="#e046f2" stroke-width="1.3"/>
<circle cx="615.50" cy="61.96" r="2.6" fill="none" stroke="#e046f2" stroke-width="1.3"/>
<circle cx="610.00" cy="75.64" r="2.6" fill="none" stroke="#e046f2" stroke-width="1.3"/>
<circle cx="604.50" cy="83.24" r="2.6" fill="none" stroke="#e046f2" stroke-width="1.3"/>
<circle cx="615.50" cy="81.72" r="2.6" fill="none" stroke="#e046f2" stroke-width="1.3"/>
<circle cx="610.00" cy="86.28" r="2.6" fill="none" stroke="#e046f2" stroke-width="1.3"/>
<circle cx="604.50" cy="89.32" r="2.6" fill="none" stroke="#e046f2" stroke-width="1.3"/>
<circle cx="615.50" cy="86.28" r="2.6" fill="none" stroke="#e046f2" stroke-width="1.3"/>
<circle cx="610.00" cy="72.60" r="2.6" fill="none" stroke="#e046f2" stroke-width="1.3"/>
<polyline points="544.70,35.40 544.70,29.00 611.00,29.00 611.00,35.40" fill="none" stroke="#1a1a1a" stroke-width="1.55" stroke-linejoin="miter"/>
<polygon points="571.55,19.50 572.39,21.45 574.50,21.64 572.91,23.04 573.37,25.11 571.55,24.03 569.73,25.11 570.19,23.04 568.60,21.64 570.71,21.45" fill="#000"/>
<polygon points="577.85,19.50 578.69,21.45 580.80,21.64 579.21,23.04 579.67,25.11 577.85,24.03 576.03,25.11 576.49,23.04 574.90,21.64 577.01,21.45" fill="#000"/>
<polygon points="584.15,19.50 584.99,21.45 587.10,21.64 585.51,23.04 585.97,25.11 584.15,24.03 582.33,25.11 582.79,23.04 581.20,21.64 583.31,21.45" fill="#000"/>
<line x1="583.00" y1="44.70" x2="606.60" y2="44.70" stroke="#1a1a1a" stroke-width="1.55" stroke-linecap="butt"/>
<polygon points="588.50,35.20 589.34,37.15 591.45,37.34 589.86,38.74 590.32,40.81 588.50,39.73 586.68,40.81 587.14,38.74 585.55,37.34 587.66,37.15" fill="#000"/>
<polygon points="594.80,35.20 595.64,37.15 597.75,37.34 596.16,38.74 596.62,40.81 594.80,39.73 592.98,40.81 593.44,38.74 591.85,37.34 593.96,37.15" fill="#000"/>
<polygon points="601.10,35.20 601.94,37.15 604.05,37.34 602.46,38.74 602.92,40.81 601.10,39.73 599.28,40.81 599.74,38.74 598.15,37.34 600.26,37.15" fill="#000"/>
<polyline points="521.50,74.50 521.50,67.50 584.00,67.50 584.00,74.50" fill="none" stroke="#1a1a1a" stroke-width="1.55" stroke-linejoin="miter"/>
<polygon points="546.45,58.00 547.29,59.95 549.40,60.14 547.81,61.54 548.27,63.61 546.45,62.53 544.63,63.61 545.09,61.54 543.50,60.14 545.61,59.95" fill="#000"/>
<polygon points="552.75,58.00 553.59,59.95 555.70,60.14 554.11,61.54 554.57,63.61 552.75,62.53 550.93,63.61 551.39,61.54 549.80,60.14 551.91,59.95" fill="#000"/>
<polygon points="559.05,58.00 559.89,59.95 562.00,60.14 560.41,61.54 560.87,63.61 559.05,62.53 557.23,63.61 557.69,61.54 556.10,60.14 558.21,59.95" fill="#000"/>
<rect x="633.9" y="13.3" width="5" height="5" fill="none" stroke="#1a1a1a" stroke-width="1.3"/>
<text x="646.00" y="19.50" font-size="9.5" text-anchor="start" font-weight="normal" font-style="normal" fill="#1a1a1a" stroke="#1a1a1a" stroke-width="0.14">WT</text>
<circle cx="636.4" cy="32.7" r="2.5" fill="none" stroke="#e046f2" stroke-width="1.2"/>
<text x="646.00" y="36.80" font-size="9.5" text-anchor="start" font-weight="normal" font-style="normal" fill="#1a1a1a" stroke="#1a1a1a" stroke-width="0.14">A2BR<tspan dy="-3.5" font-size="6.5">-/-</tspan></text>
<text x="-0.20" y="190.70" font-size="16.2" text-anchor="start" font-weight="bold" font-style="normal" fill="#000" stroke="#000" stroke-width="0.3">D</text>
<line x1="45.80" y1="327.50" x2="45.80" y2="209.90" stroke="#1a1a1a" stroke-width="1.9" stroke-linecap="butt"/>
<line x1="44.85" y1="326.60" x2="161.70" y2="326.60" stroke="#1a1a1a" stroke-width="1.9" stroke-linecap="butt"/>
<line x1="40.80" y1="326.60" x2="45.80" y2="326.60" stroke="#1a1a1a" stroke-width="1.5" stroke-linecap="butt"/>
<text x="39.00" y="329.80" font-size="9.2" text-anchor="end" font-weight="normal" font-style="normal" fill="#1a1a1a" stroke="#1a1a1a" stroke-width="0.14">0</text>
<line x1="40.80" y1="288.00" x2="45.80" y2="288.00" stroke="#1a1a1a" stroke-width="1.5" stroke-linecap="butt"/>
<text x="39.00" y="291.20" font-size="9.2" text-anchor="end" font-weight="normal" font-style="normal" fill="#1a1a1a" stroke="#1a1a1a" stroke-width="0.14">20</text>
<line x1="40.80" y1="249.40" x2="45.80" y2="249.40" stroke="#1a1a1a" stroke-width="1.5" stroke-linecap="butt"/>
<text x="39.00" y="252.60" font-size="9.2" text-anchor="end" font-weight="normal" font-style="normal" fill="#1a1a1a" stroke="#1a1a1a" stroke-width="0.14">40</text>
<line x1="40.80" y1="210.80" x2="45.80" y2="210.80" stroke="#1a1a1a" stroke-width="1.5" stroke-linecap="butt"/>
<text x="39.00" y="214.00" font-size="9.2" text-anchor="end" font-weight="normal" font-style="normal" fill="#1a1a1a" stroke="#1a1a1a" stroke-width="0.14">60</text>
<line x1="73.30" y1="326.60" x2="73.30" y2="331.40" stroke="#1a1a1a" stroke-width="1.5" stroke-linecap="butt"/>
<line x1="134.40" y1="326.60" x2="134.40" y2="331.40" stroke="#1a1a1a" stroke-width="1.5" stroke-linecap="butt"/>
<text x="73.30" y="342.50" font-size="10.6" text-anchor="middle" font-weight="normal" font-style="normal" fill="#1a1a1a" stroke="#1a1a1a" stroke-width="0.14">-&#945;4-1BB</text>
<text x="136.20" y="342.50" font-size="10.6" text-anchor="middle" font-weight="normal" font-style="normal" fill="#1a1a1a" stroke="#1a1a1a" stroke-width="0.14">+&#945;4-1BB</text>
<text x="23.50" y="267.00" font-size="10.8" text-anchor="middle" font-weight="normal" font-style="normal" fill="#1a1a1a" stroke="#1a1a1a" stroke-width="0.14" transform="rotate(-90 23.50 267.00)">GCLC<tspan dy="-3.5" font-size="6.5">+</tspan><tspan dy="3.5"> (%)</tspan></text>
<rect x="54.70" y="281.18" width="13.40" height="45.42" fill="#fff" stroke="#1a1a1a" stroke-width="1.8"/>
<rect x="77.90" y="277.32" width="12.70" height="49.28" fill="#fff" stroke="#1a1a1a" stroke-width="1.8"/>
<rect x="116.90" y="258.02" width="13.20" height="68.58" fill="#fff" stroke="#1a1a1a" stroke-width="1.8"/>
<rect x="139.90" y="231.00" width="13.20" height="95.60" fill="#fff" stroke="#1a1a1a" stroke-width="1.8"/>
<line x1="61.40" y1="282.79" x2="61.40" y2="277.77" stroke="#1a1a1a" stroke-width="1.1" stroke-linecap="butt"/>
<line x1="57.40" y1="277.77" x2="65.40" y2="277.77" stroke="#1a1a1a" stroke-width="1.1" stroke-linecap="butt"/>
<line x1="57.40" y1="282.79" x2="65.40" y2="282.79" stroke="#1a1a1a" stroke-width="1.1" stroke-linecap="butt"/>
<line x1="57.40" y1="280.28" x2="65.40" y2="280.28" stroke="#1a1a1a" stroke-width="1.1" stroke-linecap="butt"/>
<line x1="84.20" y1="278.93" x2="84.20" y2="273.91" stroke="#e046f2" stroke-width="1.1" stroke-linecap="butt"/>
<line x1="80.20" y1="273.91" x2="88.20" y2="273.91" stroke="#e046f2" stroke-width="1.1" stroke-linecap="butt"/>
<line x1="80.20" y1="278.93" x2="88.20" y2="278.93" stroke="#e046f2" stroke-width="1.1" stroke-linecap="butt"/>
<line x1="80.20" y1="276.42" x2="88.20" y2="276.42" stroke="#e046f2" stroke-width="1.1" stroke-linecap="butt"/>
<line x1="123.50" y1="261.37" x2="123.50" y2="252.87" stroke="#1a1a1a" stroke-width="1.1" stroke-linecap="butt"/>
<line x1="119.50" y1="252.87" x2="127.50" y2="252.87" stroke="#1a1a1a" stroke-width="1.1" stroke-linecap="butt"/>
<line x1="119.50" y1="261.37" x2="127.50" y2="261.37" stroke="#1a1a1a" stroke-width="1.1" stroke-linecap="butt"/>
<line x1="119.50" y1="257.12" x2="127.50" y2="257.12" stroke="#1a1a1a" stroke-width="1.1" stroke-linecap="butt"/>
<line x1="146.50" y1="232.42" x2="146.50" y2="227.78" stroke="#e046f2" stroke-width="1.1" stroke-linecap="butt"/>
<line x1="142.50" y1="227.78" x2="150.50" y2="227.78" stroke="#e046f2" stroke-width="1.1" stroke-linecap="butt"/>
<line x1="142.50" y1="232.42" x2="150.50" y2="232.42" stroke="#e046f2" stroke-width="1.1" stroke-linecap="butt"/>
<line x1="142.50" y1="230.10" x2="150.50" y2="230.10" stroke="#e046f2" stroke-width="1.1" stroke-linecap="butt"/>
<rect x="54.40" y="272.86" width="5.2" height="5.2" fill="none" stroke="#1a1a1a" stroke-width="1.3"/>
<rect x="63.90" y="271.89" width="5.2" height="5.2" fill="none" stroke="#1a1a1a" stroke-width="1.3"/>
<rect x="54.40" y="282.50" width="5.2" height="5.2" fill="none" stroke="#1a1a1a" stroke-width="1.3"/>
<rect x="63.40" y="280.57" width="5.2" height="5.2" fill="none" stroke="#1a1a1a" stroke-width="1.3"/>
<rect x="58.80" y="277.68" width="5.2" height="5.2" fill="none" stroke="#1a1a1a" stroke-width="1.3"/>
<circle cx="84.20" cy="269.67" r="2.6" fill="none" stroke="#e046f2" stroke-width="1.3"/>
<circle cx="79.50" cy="276.42" r="2.6" fill="none" stroke="#e046f2" stroke-width="1.3"/>
<circle cx="89.00" cy="276.42" r="2.6" fill="none" stroke="#e046f2" stroke-width="1.3"/>
<circle cx="84.20" cy="279.31" r="2.6" fill="none" stroke="#e046f2" stroke-width="1.3"/>
<rect x="120.90" y="244.87" width="5.2" height="5.2" fill="none" stroke="#1a1a1a" stroke-width="1.3"/>
<rect x="120.90" y="251.63" width="5.2" height="5.2" fill="none" stroke="#1a1a1a" stroke-width="1.3"/>
<rect x="120.90" y="259.35" width="5.2" height="5.2" fill="none" stroke="#1a1a1a" stroke-width="1.3"/>
<rect x="120.90" y="265.13" width="5.2" height="5.2" fill="none" stroke="#1a1a1a" stroke-width="1.3"/>
<circle cx="146.50" cy="225.28" r="2.6" fill="none" stroke="#e046f2" stroke-width="1.3"/>
<circle cx="142.00" cy="231.06" r="2.6" fill="none" stroke="#e046f2" stroke-width="1.3"/>
<circle cx="146.50" cy="231.06" r="2.6" fill="none" stroke="#e046f2" stroke-width="1.3"/>
<circle cx="151.00" cy="231.06" r="2.6" fill="none" stroke="#e046f2" stroke-width="1.3"/>
<polyline points="83.40,199.50 83.40,192.70 146.50,192.70 146.50,199.50" fill="none" stroke="#1a1a1a" stroke-width="1.55" stroke-linejoin="miter"/>
<polygon points="108.65,183.20 109.49,185.15 111.60,185.34 110.01,186.74 110.47,188.81 108.65,187.73 106.83,188.81 107.29,186.74 105.70,185.34 107.81,185.15" fill="#000"/>
<polygon points="114.95,183.20 115.79,185.15 117.90,185.34 116.31,186.74 116.77,188.81 114.95,187.73 113.13,188.81 113.59,186.74 112.00,185.34 114.11,185.15" fill="#000"/>
<polygon points="121.25,183.20 122.09,185.15 124.20,185.34 122.61,186.74 123.07,188.81 121.25,187.73 119.43,188.81 119.89,186.74 118.30,185.34 120.41,185.15" fill="#000"/>
<line x1="123.00" y1="210.90" x2="150.80" y2="210.90" stroke="#1a1a1a" stroke-width="1.55" stroke-linecap="butt"/>
<polygon points="133.75,201.40 134.59,203.35 136.70,203.54 135.11,204.94 135.57,207.01 133.75,205.93 131.93,207.01 132.39,204.94 130.80,203.54 132.91,203.35" fill="#000"/>
<polygon points="140.05,201.40 140.89,203.35 143.00,203.54 141.41,204.94 141.87,207.01 140.05,205.93 138.23,207.01 138.69,204.94 137.10,203.54 139.21,203.35" fill="#000"/>
<polyline points="60.00,238.20 60.00,231.30 123.00,231.30 123.00,238.20" fill="none" stroke="#1a1a1a" stroke-width="1.55" stroke-linejoin="miter"/>
<polygon points="91.50,221.80 92.34,223.75 94.45,223.94 92.86,225.34 93.32,227.41 91.50,226.33 89.68,227.41 90.14,225.34 88.55,223.94 90.66,223.75" fill="#000"/>
<text x="186.40" y="191.40" font-size="16.2" text-anchor="start" font-weight="bold" font-style="normal" fill="#000" stroke="#000" stroke-width="0.3">E</text>
<line x1="227.20" y1="327.50" x2="227.20" y2="204.50" stroke="#1a1a1a" stroke-width="1.9" stroke-linecap="butt"/>
<line x1="226.25" y1="326.60" x2="347.50" y2="326.60" stroke="#1a1a1a" stroke-width="1.9" stroke-linecap="butt"/>
<line x1="222.20" y1="326.60" x2="227.20" y2="326.60" stroke="#1a1a1a" stroke-width="1.5" stroke-linecap="butt"/>
<text x="220.40" y="329.80" font-size="9.2" text-anchor="end" font-weight="normal" font-style="normal" fill="#1a1a1a" stroke="#1a1a1a" stroke-width="0.14">0</text>
<line x1="222.20" y1="296.30" x2="227.20" y2="296.30" stroke="#1a1a1a" stroke-width="1.5" stroke-linecap="butt"/>
<text x="220.40" y="299.50" font-size="9.2" text-anchor="end" font-weight="normal" font-style="normal" fill="#1a1a1a" stroke="#1a1a1a" stroke-width="0.14">10</text>
<line x1="222.20" y1="266.00" x2="227.20" y2="266.00" stroke="#1a1a1a" stroke-width="1.5" stroke-linecap="butt"/>
<text x="220.40" y="269.20" font-size="9.2" text-anchor="end" font-weight="normal" font-style="normal" fill="#1a1a1a" stroke="#1a1a1a" stroke-width="0.14">20</text>
<line x1="222.20" y1="235.70" x2="227.20" y2="235.70" stroke="#1a1a1a" stroke-width="1.5" stroke-linecap="butt"/>
<text x="220.40" y="238.90" font-size="9.2" text-anchor="end" font-weight="normal" font-style="normal" fill="#1a1a1a" stroke="#1a1a1a" stroke-width="0.14">30</text>
<line x1="222.20" y1="205.40" x2="227.20" y2="205.40" stroke="#1a1a1a" stroke-width="1.5" stroke-linecap="butt"/>
<text x="220.40" y="208.60" font-size="9.2" text-anchor="end" font-weight="normal" font-style="normal" fill="#1a1a1a" stroke="#1a1a1a" stroke-width="0.14">40</text>
<line x1="255.00" y1="326.60" x2="255.00" y2="331.40" stroke="#1a1a1a" stroke-width="1.5" stroke-linecap="butt"/>
<line x1="319.00" y1="326.60" x2="319.00" y2="331.40" stroke="#1a1a1a" stroke-width="1.5" stroke-linecap="butt"/>
<text x="255.00" y="342.50" font-size="10.6" text-anchor="middle" font-weight="normal" font-style="normal" fill="#1a1a1a" stroke="#1a1a1a" stroke-width="0.14">-&#945;4-1BB</text>
<text x="319.00" y="342.50" font-size="10.6" text-anchor="middle" font-weight="normal" font-style="normal" fill="#1a1a1a" stroke="#1a1a1a" stroke-width="0.14">+&#945;4-1BB</text>
<text x="203.50" y="266.00" font-size="10.8" text-anchor="middle" font-weight="normal" font-style="normal" fill="#1a1a1a" stroke="#1a1a1a" stroke-width="0.14" transform="rotate(-90 203.50 266.00)">GPX4<tspan dy="-3.5" font-size="6.5">+</tspan><tspan dy="3.5"> (%)</tspan></text>
<rect x="235.90" y="283.56" width="14.70" height="43.04" fill="#fff" stroke="#1a1a1a" stroke-width="1.8"/>
<rect x="259.90" y="285.08" width="13.90" height="41.52" fill="#fff" stroke="#1a1a1a" stroke-width="1.8"/>
<rect x="300.90" y="257.81" width="13.90" height="68.79" fill="#fff" stroke="#1a1a1a" stroke-width="1.8"/>
<rect x="324.90" y="229.03" width="13.20" height="97.58" fill="#fff" stroke="#1a1a1a" stroke-width="1.8"/>
<line x1="243.00" y1="283.88" x2="243.00" y2="281.45" stroke="#1a1a1a" stroke-width="1.1" stroke-linecap="butt"/>
<line x1="239.00" y1="281.45" x2="247.00" y2="281.45" stroke="#1a1a1a" stroke-width="1.1" stroke-linecap="butt"/>
<line x1="239.00" y1="283.88" x2="247.00" y2="283.88" stroke="#1a1a1a" stroke-width="1.1" stroke-linecap="butt"/>
<line x1="239.00" y1="282.67" x2="247.00" y2="282.67" stroke="#1a1a1a" stroke-width="1.1" stroke-linecap="butt"/>
<line x1="266.80" y1="285.70" x2="266.80" y2="282.67" stroke="#e046f2" stroke-width="1.1" stroke-linecap="butt"/>
<line x1="262.80" y1="282.67" x2="270.80" y2="282.67" stroke="#e046f2" stroke-width="1.1" stroke-linecap="butt"/>
<line x1="262.80" y1="285.70" x2="270.80" y2="285.70" stroke="#e046f2" stroke-width="1.1" stroke-linecap="butt"/>
<line x1="262.80" y1="284.18" x2="270.80" y2="284.18" stroke="#e046f2" stroke-width="1.1" stroke-linecap="butt"/>
<line x1="308.00" y1="259.33" x2="308.00" y2="254.49" stroke="#1a1a1a" stroke-width="1.1" stroke-linecap="butt"/>
<line x1="304.00" y1="254.49" x2="312.00" y2="254.49" stroke="#1a1a1a" stroke-width="1.1" stroke-linecap="butt"/>
<line x1="304.00" y1="259.33" x2="312.00" y2="259.33" stroke="#1a1a1a" stroke-width="1.1" stroke-linecap="butt"/>
<line x1="304.00" y1="256.91" x2="312.00" y2="256.91" stroke="#1a1a1a" stroke-width="1.1" stroke-linecap="butt"/>
<line x1="331.50" y1="231.76" x2="331.50" y2="224.49" stroke="#e046f2" stroke-width="1.1" stroke-linecap="butt"/>
<line x1="327.50" y1="224.49" x2="335.50" y2="224.49" stroke="#e046f2" stroke-width="1.1" stroke-linecap="butt"/>
<line x1="327.50" y1="231.76" x2="335.50" y2="231.76" stroke="#e046f2" stroke-width="1.1" stroke-linecap="butt"/>
<line x1="327.50" y1="228.12" x2="335.50" y2="228.12" stroke="#e046f2" stroke-width="1.1" stroke-linecap="butt"/>
<rect x="235.90" y="280.06" width="5.2" height="5.2" fill="none" stroke="#1a1a1a" stroke-width="1.3"/>
<rect x="240.40" y="279.16" width="5.2" height="5.2" fill="none" stroke="#1a1a1a" stroke-width="1.3"/>
<rect x="244.90" y="280.06" width="5.2" height="5.2" fill="none" stroke="#1a1a1a" stroke-width="1.3"/>
<rect x="248.40" y="280.67" width="5.2" height="5.2" fill="none" stroke="#1a1a1a" stroke-width="1.3"/>
<circle cx="262.00" cy="284.18" r="2.6" fill="none" stroke="#e046f2" stroke-width="1.3"/>
<circle cx="266.80" cy="281.45" r="2.6" fill="none" stroke="#e046f2" stroke-width="1.3"/>
<circle cx="271.50" cy="284.18" r="2.6" fill="none" stroke="#e046f2" stroke-width="1.3"/>
<rect x="299.40" y="249.77" width="5.2" height="5.2" fill="none" stroke="#1a1a1a" stroke-width="1.3"/>
<rect x="310.40" y="248.86" width="5.2" height="5.2" fill="none" stroke="#1a1a1a" stroke-width="1.3"/>
<rect x="299.40" y="257.34" width="5.2" height="5.2" fill="none" stroke="#1a1a1a" stroke-width="1.3"/>
<rect x="310.40" y="257.34" width="5.2" height="5.2" fill="none" stroke="#1a1a1a" stroke-width="1.3"/>
<circle cx="331.50" cy="219.04" r="2.6" fill="none" stroke="#e046f2" stroke-width="1.3"/>
<circle cx="326.50" cy="226.61" r="2.6" fill="none" stroke="#e046f2" stroke-width="1.3"/>
<circle cx="336.50" cy="228.12" r="2.6" fill="none" stroke="#e046f2" stroke-width="1.3"/>
<circle cx="331.50" cy="235.70" r="2.6" fill="none" stroke="#e046f2" stroke-width="1.3"/>
<polyline points="267.00,200.30 267.00,194.00 334.00,194.00 334.00,200.30" fill="none" stroke="#1a1a1a" stroke-width="1.55" stroke-linejoin="miter"/>
<polygon points="294.20,184.50 295.04,186.45 297.15,186.64 295.56,188.04 296.02,190.11 294.20,189.03 292.38,190.11 292.84,188.04 291.25,186.64 293.36,186.45" fill="#000"/>
<polygon points="300.50,184.50 301.34,186.45 303.45,186.64 301.86,188.04 302.32,190.11 300.50,189.03 298.68,190.11 299.14,188.04 297.55,186.64 299.66,186.45" fill="#000"/>
<polygon points="306.80,184.50 307.64,186.45 309.75,186.64 308.16,188.04 308.62,190.11 306.80,189.03 304.98,190.11 305.44,188.04 303.85,186.64 305.96,186.45" fill="#000"/>
<line x1="308.30" y1="206.60" x2="332.90" y2="206.60" stroke="#1a1a1a" stroke-width="1.55" stroke-linecap="butt"/>
<polygon points="317.45,197.10 318.29,199.05 320.40,199.24 318.81,200.64 319.27,202.71 317.45,201.63 315.63,202.71 316.09,200.64 314.50,199.24 316.61,199.05" fill="#000"/>
<polygon points="323.75,197.10 324.59,199.05 326.70,199.24 325.11,200.64 325.57,202.71 323.75,201.63 321.93,202.71 322.39,200.64 320.80,199.24 322.91,199.05" fill="#000"/>
<polyline points="242.00,244.50 242.00,238.00 306.80,238.00 306.80,244.50" fill="none" stroke="#1a1a1a" stroke-width="1.55" stroke-linejoin="miter"/>
<polygon points="271.25,228.50 272.09,230.45 274.20,230.64 272.61,232.04 273.07,234.11 271.25,233.03 269.43,234.11 269.89,232.04 268.30,230.64 270.41,230.45" fill="#000"/>
<polygon points="277.55,228.50 278.39,230.45 280.50,230.64 278.91,232.04 279.37,234.11 277.55,233.03 275.73,234.11 276.19,232.04 274.60,230.64 276.71,230.45" fill="#000"/>
<text x="362.30" y="191.50" font-size="16.2" text-anchor="start" font-weight="bold" font-style="normal" fill="#000" stroke="#000" stroke-width="0.3">F</text>
<line x1="402.80" y1="326.90" x2="402.80" y2="206.70" stroke="#1a1a1a" stroke-width="1.9" stroke-linecap="butt"/>
<line x1="401.85" y1="326.00" x2="518.60" y2="326.00" stroke="#1a1a1a" stroke-width="1.9" stroke-linecap="butt"/>
<line x1="397.80" y1="326.00" x2="402.80" y2="326.00" stroke="#1a1a1a" stroke-width="1.5" stroke-linecap="butt"/>
<text x="396.00" y="329.20" font-size="9.2" text-anchor="end" font-weight="normal" font-style="normal" fill="#1a1a1a" stroke="#1a1a1a" stroke-width="0.14">0</text>
<line x1="397.80" y1="296.40" x2="402.80" y2="296.40" stroke="#1a1a1a" stroke-width="1.5" stroke-linecap="butt"/>
<text x="396.00" y="299.60" font-size="9.2" text-anchor="end" font-weight="normal" font-style="normal" fill="#1a1a1a" stroke="#1a1a1a" stroke-width="0.14">2</text>
<line x1="397.80" y1="266.80" x2="402.80" y2="266.80" stroke="#1a1a1a" stroke-width="1.5" stroke-linecap="butt"/>
<text x="396.00" y="270.00" font-size="9.2" text-anchor="end" font-weight="normal" font-style="normal" fill="#1a1a1a" stroke="#1a1a1a" stroke-width="0.14">4</text>
<line x1="397.80" y1="237.20" x2="402.80" y2="237.20" stroke="#1a1a1a" stroke-width="1.5" stroke-linecap="butt"/>
<text x="396.00" y="240.40" font-size="9.2" text-anchor="end" font-weight="normal" font-style="normal" fill="#1a1a1a" stroke="#1a1a1a" stroke-width="0.14">6</text>
<line x1="397.80" y1="207.60" x2="402.80" y2="207.60" stroke="#1a1a1a" stroke-width="1.5" stroke-linecap="butt"/>
<text x="396.00" y="210.80" font-size="9.2" text-anchor="end" font-weight="normal" font-style="normal" fill="#1a1a1a" stroke="#1a1a1a" stroke-width="0.14">8</text>
<line x1="431.00" y1="326.00" x2="431.00" y2="330.80" stroke="#1a1a1a" stroke-width="1.5" stroke-linecap="butt"/>
<line x1="495.60" y1="326.00" x2="495.60" y2="330.80" stroke="#1a1a1a" stroke-width="1.5" stroke-linecap="butt"/>
<text x="431.00" y="342.50" font-size="10.6" text-anchor="middle" font-weight="normal" font-style="normal" fill="#1a1a1a" stroke="#1a1a1a" stroke-width="0.14">-&#945;4-1BB</text>
<text x="493.00" y="342.50" font-size="10.6" text-anchor="middle" font-weight="normal" font-style="normal" fill="#1a1a1a" stroke="#1a1a1a" stroke-width="0.14">+&#945;4-1BB</text>
<text x="384.00" y="260.00" font-size="10.8" text-anchor="middle" font-weight="normal" font-style="normal" fill="#1a1a1a" stroke="#1a1a1a" stroke-width="0.14" transform="rotate(-90 384.00 260.00)">Live CD8<tspan dy="-3.5" font-size="6.5">+</tspan><tspan dy="3.5"> T cell counts (10</tspan><tspan dy="-3.5" font-size="6.5">4</tspan><tspan dy="3.5">)</tspan></text>
<rect x="412.60" y="286.94" width="13.90" height="39.06" fill="#fff" stroke="#1a1a1a" stroke-width="1.8"/>
<rect x="436.60" y="272.14" width="13.30" height="53.86" fill="#fff" stroke="#1a1a1a" stroke-width="1.8"/>
<rect x="476.50" y="263.26" width="13.40" height="62.74" fill="#fff" stroke="#1a1a1a" stroke-width="1.8"/>
<rect x="500.50" y="232.18" width="13.40" height="93.82" fill="#fff" stroke="#1a1a1a" stroke-width="1.8"/>
<line x1="419.50" y1="288.26" x2="419.50" y2="283.82" stroke="#1a1a1a" stroke-width="1.1" stroke-linecap="butt"/>
<line x1="415.50" y1="283.82" x2="423.50" y2="283.82" stroke="#1a1a1a" stroke-width="1.1" stroke-linecap="butt"/>
<line x1="415.50" y1="288.26" x2="423.50" y2="288.26" stroke="#1a1a1a" stroke-width="1.1" stroke-linecap="butt"/>
<line x1="415.50" y1="286.04" x2="423.50" y2="286.04" stroke="#1a1a1a" stroke-width="1.1" stroke-linecap="butt"/>
<line x1="443.20" y1="274.94" x2="443.20" y2="267.54" stroke="#e046f2" stroke-width="1.1" stroke-linecap="butt"/>
<line x1="439.20" y1="267.54" x2="447.20" y2="267.54" stroke="#e046f2" stroke-width="1.1" stroke-linecap="butt"/>
<line x1="439.20" y1="274.94" x2="447.20" y2="274.94" stroke="#e046f2" stroke-width="1.1" stroke-linecap="butt"/>
<line x1="439.20" y1="271.24" x2="447.20" y2="271.24" stroke="#e046f2" stroke-width="1.1" stroke-linecap="butt"/>
<line x1="483.20" y1="264.88" x2="483.20" y2="259.84" stroke="#1a1a1a" stroke-width="1.1" stroke-linecap="butt"/>
<line x1="479.20" y1="259.84" x2="487.20" y2="259.84" stroke="#1a1a1a" stroke-width="1.1" stroke-linecap="butt"/>
<line x1="479.20" y1="264.88" x2="487.20" y2="264.88" stroke="#1a1a1a" stroke-width="1.1" stroke-linecap="butt"/>
<line x1="479.20" y1="262.36" x2="487.20" y2="262.36" stroke="#1a1a1a" stroke-width="1.1" stroke-linecap="butt"/>
<line x1="507.20" y1="234.24" x2="507.20" y2="228.32" stroke="#e046f2" stroke-width="1.1" stroke-linecap="butt"/>
<line x1="503.20" y1="228.32" x2="511.20" y2="228.32" stroke="#e046f2" stroke-width="1.1" stroke-linecap="butt"/>
<line x1="503.20" y1="234.24" x2="511.20" y2="234.24" stroke="#e046f2" stroke-width="1.1" stroke-linecap="butt"/>
<line x1="503.20" y1="231.28" x2="511.20" y2="231.28" stroke="#e046f2" stroke-width="1.1" stroke-linecap="butt"/>
<rect x="416.90" y="274.56" width="5.2" height="5.2" fill="none" stroke="#1a1a1a" stroke-width="1.3"/>
<rect x="411.90" y="284.92" width="5.2" height="5.2" fill="none" stroke="#1a1a1a" stroke-width="1.3"/>
<rect x="421.90" y="284.92" width="5.2" height="5.2" fill="none" stroke="#1a1a1a" stroke-width="1.3"/>
<rect x="416.90" y="285.66" width="5.2" height="5.2" fill="none" stroke="#1a1a1a" stroke-width="1.3"/>
<circle cx="438.50" cy="268.28" r="2.6" fill="none" stroke="#e046f2" stroke-width="1.3"/>
<circle cx="448.00" cy="263.84" r="2.6" fill="none" stroke="#e046f2" stroke-width="1.3"/>
<circle cx="443.20" cy="271.24" r="2.6" fill="none" stroke="#e046f2" stroke-width="1.3"/>
<circle cx="443.20" cy="283.08" r="2.6" fill="none" stroke="#e046f2" stroke-width="1.3"/>
<rect x="475.90" y="255.32" width="5.2" height="5.2" fill="none" stroke="#1a1a1a" stroke-width="1.3"/>
<rect x="485.40" y="253.84" width="5.2" height="5.2" fill="none" stroke="#1a1a1a" stroke-width="1.3"/>
<rect x="475.90" y="264.20" width="5.2" height="5.2" fill="none" stroke="#1a1a1a" stroke-width="1.3"/>
<rect x="485.40" y="264.20" width="5.2" height="5.2" fill="none" stroke="#1a1a1a" stroke-width="1.3"/>
<circle cx="502.00" cy="228.32" r="2.6" fill="none" stroke="#e046f2" stroke-width="1.3"/>
<circle cx="512.00" cy="223.88" r="2.6" fill="none" stroke="#e046f2" stroke-width="1.3"/>
<circle cx="507.20" cy="232.76" r="2.6" fill="none" stroke="#e046f2" stroke-width="1.3"/>
<circle cx="502.00" cy="237.20" r="2.6" fill="none" stroke="#e046f2" stroke-width="1.3"/>
<circle cx="512.00" cy="234.24" r="2.6" fill="none" stroke="#e046f2" stroke-width="1.3"/>
<polyline points="443.30,201.50 443.30,195.20 509.50,195.20 509.50,201.50" fill="none" stroke="#1a1a1a" stroke-width="1.55" stroke-linejoin="miter"/>
<polygon points="473.25,185.70 474.09,187.65 476.20,187.84 474.61,189.24 475.07,191.31 473.25,190.23 471.43,191.31 471.89,189.24 470.30,187.84 472.41,187.65" fill="#000"/>
<polygon points="479.55,185.70 480.39,187.65 482.50,187.84 480.91,189.24 481.37,191.31 479.55,190.23 477.73,191.31 478.19,189.24 476.60,187.84 478.71,187.65" fill="#000"/>
<line x1="483.70" y1="215.00" x2="508.50" y2="215.00" stroke="#1a1a1a" stroke-width="1.55" stroke-linecap="butt"/>
<polygon points="492.95,205.50 493.79,207.45 495.90,207.64 494.31,209.04 494.77,211.11 492.95,210.03 491.13,211.11 491.59,209.04 490.00,207.64 492.11,207.45" fill="#000"/>
<polygon points="499.25,205.50 500.09,207.45 502.20,207.64 500.61,209.04 501.07,211.11 499.25,210.03 497.43,211.11 497.89,209.04 496.30,207.64 498.41,207.45" fill="#000"/>
<polyline points="418.00,245.70 418.00,239.00 482.00,239.00 482.00,245.70" fill="none" stroke="#1a1a1a" stroke-width="1.55" stroke-linejoin="miter"/>
<polygon points="446.85,229.50 447.69,231.45 449.80,231.64 448.21,233.04 448.67,235.11 446.85,234.03 445.03,235.11 445.49,233.04 443.90,231.64 446.01,231.45" fill="#000"/>
<polygon points="453.15,229.50 453.99,231.45 456.10,231.64 454.51,233.04 454.97,235.11 453.15,234.03 451.33,235.11 451.79,233.04 450.20,231.64 452.31,231.45" fill="#000"/>
<text x="543.30" y="191.20" font-size="16.2" text-anchor="start" font-weight="bold" font-style="normal" fill="#000" stroke="#000" stroke-width="0.3">G</text>
<line x1="584.80" y1="326.50" x2="584.80" y2="211.00" stroke="#1a1a1a" stroke-width="1.9" stroke-linecap="butt"/>
<line x1="583.85" y1="325.60" x2="697.90" y2="325.60" stroke="#1a1a1a" stroke-width="1.9" stroke-linecap="butt"/>
<line x1="579.80" y1="325.60" x2="584.80" y2="325.60" stroke="#1a1a1a" stroke-width="1.5" stroke-linecap="butt"/>
<text x="578.00" y="328.80" font-size="9.2" text-anchor="end" font-weight="normal" font-style="normal" fill="#1a1a1a" stroke="#1a1a1a" stroke-width="0.14">0</text>
<line x1="579.80" y1="287.70" x2="584.80" y2="287.70" stroke="#1a1a1a" stroke-width="1.5" stroke-linecap="butt"/>
<text x="578.00" y="290.90" font-size="9.2" text-anchor="end" font-weight="normal" font-style="normal" fill="#1a1a1a" stroke="#1a1a1a" stroke-width="0.14">20</text>
<line x1="579.80" y1="249.80" x2="584.80" y2="249.80" stroke="#1a1a1a" stroke-width="1.5" stroke-linecap="butt"/>
<text x="578.00" y="253.00" font-size="9.2" text-anchor="end" font-weight="normal" font-style="normal" fill="#1a1a1a" stroke="#1a1a1a" stroke-width="0.14">40</text>
<line x1="579.80" y1="211.90" x2="584.80" y2="211.90" stroke="#1a1a1a" stroke-width="1.5" stroke-linecap="butt"/>
<text x="578.00" y="215.10" font-size="9.2" text-anchor="end" font-weight="normal" font-style="normal" fill="#1a1a1a" stroke="#1a1a1a" stroke-width="0.14">60</text>
<line x1="611.00" y1="325.60" x2="611.00" y2="330.40" stroke="#1a1a1a" stroke-width="1.5" stroke-linecap="butt"/>
<line x1="671.60" y1="325.60" x2="671.60" y2="330.40" stroke="#1a1a1a" stroke-width="1.5" stroke-linecap="butt"/>
<text x="611.00" y="342.50" font-size="10.6" text-anchor="middle" font-weight="normal" font-style="normal" fill="#1a1a1a" stroke="#1a1a1a" stroke-width="0.14">-&#945;4-1BB</text>
<text x="673.80" y="342.50" font-size="10.6" text-anchor="middle" font-weight="normal" font-style="normal" fill="#1a1a1a" stroke="#1a1a1a" stroke-width="0.14">+&#945;4-1BB</text>
<text x="562.20" y="270.00" font-size="10.8" text-anchor="middle" font-weight="normal" font-style="normal" fill="#1a1a1a" stroke="#1a1a1a" stroke-width="0.14" transform="rotate(-90 562.20 270.00)">Ki67<tspan dy="-3.5" font-size="6.5">+</tspan><tspan dy="3.5"> CD8</tspan><tspan dy="-3.5" font-size="6.5">+</tspan><tspan dy="3.5"> T cells (%)</tspan></text>
<rect x="593.30" y="283.86" width="12.50" height="41.74" fill="#fff" stroke="#1a1a1a" stroke-width="1.8"/>
<rect x="615.90" y="279.12" width="12.60" height="46.48" fill="#fff" stroke="#1a1a1a" stroke-width="1.8"/>
<rect x="653.60" y="262.07" width="13.20" height="63.53" fill="#fff" stroke="#1a1a1a" stroke-width="1.8"/>
<rect x="676.50" y="245.02" width="12.80" height="80.59" fill="#fff" stroke="#1a1a1a" stroke-width="1.8"/>
<line x1="599.50" y1="285.43" x2="599.50" y2="280.50" stroke="#1a1a1a" stroke-width="1.1" stroke-linecap="butt"/>
<line x1="595.50" y1="280.50" x2="603.50" y2="280.50" stroke="#1a1a1a" stroke-width="1.1" stroke-linecap="butt"/>
<line x1="595.50" y1="285.43" x2="603.50" y2="285.43" stroke="#1a1a1a" stroke-width="1.1" stroke-linecap="butt"/>
<line x1="595.50" y1="282.96" x2="603.50" y2="282.96" stroke="#1a1a1a" stroke-width="1.1" stroke-linecap="butt"/>
<line x1="622.20" y1="280.12" x2="622.20" y2="276.33" stroke="#e046f2" stroke-width="1.1" stroke-linecap="butt"/>
<line x1="618.20" y1="276.33" x2="626.20" y2="276.33" stroke="#e046f2" stroke-width="1.1" stroke-linecap="butt"/>
<line x1="618.20" y1="280.12" x2="626.20" y2="280.12" stroke="#e046f2" stroke-width="1.1" stroke-linecap="butt"/>
<line x1="618.20" y1="278.23" x2="626.20" y2="278.23" stroke="#e046f2" stroke-width="1.1" stroke-linecap="butt"/>
<line x1="660.20" y1="264.96" x2="660.20" y2="257.38" stroke="#1a1a1a" stroke-width="1.1" stroke-linecap="butt"/>
<line x1="656.20" y1="257.38" x2="664.20" y2="257.38" stroke="#1a1a1a" stroke-width="1.1" stroke-linecap="butt"/>
<line x1="656.20" y1="264.96" x2="664.20" y2="264.96" stroke="#1a1a1a" stroke-width="1.1" stroke-linecap="butt"/>
<line x1="656.20" y1="261.17" x2="664.20" y2="261.17" stroke="#1a1a1a" stroke-width="1.1" stroke-linecap="butt"/>
<line x1="683.00" y1="250.18" x2="683.00" y2="238.05" stroke="#e046f2" stroke-width="1.1" stroke-linecap="butt"/>
<line x1="679.00" y1="238.05" x2="687.00" y2="238.05" stroke="#e046f2" stroke-width="1.1" stroke-linecap="butt"/>
<line x1="679.00" y1="250.18" x2="687.00" y2="250.18" stroke="#e046f2" stroke-width="1.1" stroke-linecap="butt"/>
<line x1="679.00" y1="244.12" x2="687.00" y2="244.12" stroke="#e046f2" stroke-width="1.1" stroke-linecap="butt"/>
<rect x="591.90" y="278.47" width="5.2" height="5.2" fill="none" stroke="#1a1a1a" stroke-width="1.3"/>
<rect x="601.90" y="275.62" width="5.2" height="5.2" fill="none" stroke="#1a1a1a" stroke-width="1.3"/>
<rect x="596.90" y="280.36" width="5.2" height="5.2" fill="none" stroke="#1a1a1a" stroke-width="1.3"/>
<rect x="596.90" y="287.94" width="5.2" height="5.2" fill="none" stroke="#1a1a1a" stroke-width="1.3"/>
<circle cx="617.50" cy="276.33" r="2.6" fill="none" stroke="#e046f2" stroke-width="1.3"/>
<circle cx="627.00" cy="276.33" r="2.6" fill="none" stroke="#e046f2" stroke-width="1.3"/>
<circle cx="617.50" cy="281.07" r="2.6" fill="none" stroke="#e046f2" stroke-width="1.3"/>
<circle cx="627.00" cy="281.07" r="2.6" fill="none" stroke="#e046f2" stroke-width="1.3"/>
<rect x="657.60" y="245.31" width="5.2" height="5.2" fill="none" stroke="#1a1a1a" stroke-width="1.3"/>
<rect x="652.40" y="258.57" width="5.2" height="5.2" fill="none" stroke="#1a1a1a" stroke-width="1.3"/>
<rect x="662.40" y="259.52" width="5.2" height="5.2" fill="none" stroke="#1a1a1a" stroke-width="1.3"/>
<rect x="652.40" y="264.25" width="5.2" height="5.2" fill="none" stroke="#1a1a1a" stroke-width="1.3"/>
<circle cx="683.00" cy="228.01" r="2.6" fill="none" stroke="#e046f2" stroke-width="1.3"/>
<circle cx="678.00" cy="242.22" r="2.6" fill="none" stroke="#e046f2" stroke-width="1.3"/>
<circle cx="688.00" cy="245.06" r="2.6" fill="none" stroke="#e046f2" stroke-width="1.3"/>
<circle cx="683.00" cy="258.33" r="2.6" fill="none" stroke="#e046f2" stroke-width="1.3"/>
<polyline points="621.80,207.70 621.80,201.00 685.00,201.00 685.00,207.70" fill="none" stroke="#1a1a1a" stroke-width="1.55" stroke-linejoin="miter"/>
<polygon points="650.25,191.50 651.09,193.45 653.20,193.64 651.61,195.04 652.07,197.11 650.25,196.03 648.43,197.11 648.89,195.04 647.30,193.64 649.41,193.45" fill="#000"/>
<polygon points="656.55,191.50 657.39,193.45 659.50,193.64 657.91,195.04 658.37,197.11 656.55,196.03 654.73,197.11 655.19,195.04 653.60,193.64 655.71,193.45" fill="#000"/>
<polyline points="597.80,240.00 597.80,233.20 659.60,233.20 659.60,240.00" fill="none" stroke="#1a1a1a" stroke-width="1.55" stroke-linejoin="miter"/>
<polygon points="625.55,223.70 626.39,225.65 628.50,225.84 626.91,227.24 627.37,229.31 625.55,228.23 623.73,229.31 624.19,227.24 622.60,225.84 624.71,225.65" fill="#000"/>
<polygon points="631.85,223.70 632.69,225.65 634.80,225.84 633.21,227.24 633.67,229.31 631.85,228.23 630.03,229.31 630.49,227.24 628.90,225.84 631.01,225.65" fill="#000"/>
<rect x="709.3" y="186.7" width="5" height="5" fill="none" stroke="#1a1a1a" stroke-width="1.3"/>
<text x="721.80" y="192.50" font-size="9.5" text-anchor="start" font-weight="normal" font-style="normal" fill="#1a1a1a" stroke="#1a1a1a" stroke-width="0.14">WT</text>
<circle cx="711.6" cy="205" r="2.5" fill="none" stroke="#e046f2" stroke-width="1.2"/>
<text x="721.80" y="208.80" font-size="9.5" text-anchor="start" font-weight="normal" font-style="normal" fill="#1a1a1a" stroke="#1a1a1a" stroke-width="0.14">A2BR<tspan dy="-3.5" font-size="6.5">-/-</tspan></text>
<text x="-0.20" y="401.40" font-size="16.2" text-anchor="start" font-weight="bold" font-style="normal" fill="#000" stroke="#000" stroke-width="0.3">H</text>
<line x1="53.60" y1="536.00" x2="53.60" y2="414.80" stroke="#1a1a1a" stroke-width="1.9" stroke-linecap="butt"/>
<line x1="52.65" y1="535.10" x2="168.80" y2="535.10" stroke="#1a1a1a" stroke-width="1.9" stroke-linecap="butt"/>
<line x1="48.60" y1="535.10" x2="53.60" y2="535.10" stroke="#1a1a1a" stroke-width="1.5" stroke-linecap="butt"/>
<text x="46.80" y="538.30" font-size="9.2" text-anchor="end" font-weight="normal" font-style="normal" fill="#1a1a1a" stroke="#1a1a1a" stroke-width="0.14">0</text>
<line x1="48.60" y1="511.22" x2="53.60" y2="511.22" stroke="#1a1a1a" stroke-width="1.5" stroke-linecap="butt"/>
<text x="46.80" y="514.42" font-size="9.2" text-anchor="end" font-weight="normal" font-style="normal" fill="#1a1a1a" stroke="#1a1a1a" stroke-width="0.14">20</text>
<line x1="48.60" y1="487.34" x2="53.60" y2="487.34" stroke="#1a1a1a" stroke-width="1.5" stroke-linecap="butt"/>
<text x="46.80" y="490.54" font-size="9.2" text-anchor="end" font-weight="normal" font-style="normal" fill="#1a1a1a" stroke="#1a1a1a" stroke-width="0.14">40</text>
<line x1="48.60" y1="463.46" x2="53.60" y2="463.46" stroke="#1a1a1a" stroke-width="1.5" stroke-linecap="butt"/>
<text x="46.80" y="466.66" font-size="9.2" text-anchor="end" font-weight="normal" font-style="normal" fill="#1a1a1a" stroke="#1a1a1a" stroke-width="0.14">60</text>
<line x1="48.60" y1="439.58" x2="53.60" y2="439.58" stroke="#1a1a1a" stroke-width="1.5" stroke-linecap="butt"/>
<text x="46.80" y="442.78" font-size="9.2" text-anchor="end" font-weight="normal" font-style="normal" fill="#1a1a1a" stroke="#1a1a1a" stroke-width="0.14">80</text>
<line x1="48.60" y1="415.70" x2="53.60" y2="415.70" stroke="#1a1a1a" stroke-width="1.5" stroke-linecap="butt"/>
<text x="46.80" y="418.90" font-size="9.2" text-anchor="end" font-weight="normal" font-style="normal" fill="#1a1a1a" stroke="#1a1a1a" stroke-width="0.14">100</text>
<line x1="81.40" y1="535.10" x2="81.40" y2="539.90" stroke="#1a1a1a" stroke-width="1.5" stroke-linecap="butt"/>
<line x1="144.80" y1="535.10" x2="144.80" y2="539.90" stroke="#1a1a1a" stroke-width="1.5" stroke-linecap="butt"/>
<text x="81.40" y="552.50" font-size="10.6" text-anchor="middle" font-weight="normal" font-style="normal" fill="#1a1a1a" stroke="#1a1a1a" stroke-width="0.14">-&#945;4-1BB</text>
<text x="144.80" y="552.50" font-size="10.6" text-anchor="middle" font-weight="normal" font-style="normal" fill="#1a1a1a" stroke="#1a1a1a" stroke-width="0.14">+&#945;4-1BB</text>
<text x="24.50" y="475.00" font-size="10.8" text-anchor="middle" font-weight="normal" font-style="normal" fill="#1a1a1a" stroke="#1a1a1a" stroke-width="0.14" transform="rotate(-90 24.50 475.00)">IFN&#947;<tspan dy="-3.5" font-size="6.5">+</tspan><tspan dy="3.5"> CD8</tspan><tspan dy="-3.5" font-size="6.5">+</tspan><tspan dy="3.5"> T cells (%)</tspan></text>
<rect x="62.30" y="488.24" width="13.40" height="46.86" fill="#fff" stroke="#1a1a1a" stroke-width="1.8"/>
<rect x="85.90" y="465.55" width="13.50" height="69.55" fill="#fff" stroke="#1a1a1a" stroke-width="1.8"/>
<rect x="125.90" y="454.21" width="13.40" height="80.89" fill="#fff" stroke="#1a1a1a" stroke-width="1.8"/>
<rect x="149.90" y="449.44" width="13.40" height="85.66" fill="#fff" stroke="#1a1a1a" stroke-width="1.8"/>
<line x1="69.00" y1="491.52" x2="69.00" y2="483.16" stroke="#1a1a1a" stroke-width="1.1" stroke-linecap="butt"/>
<line x1="65.00" y1="483.16" x2="73.00" y2="483.16" stroke="#1a1a1a" stroke-width="1.1" stroke-linecap="butt"/>
<line x1="65.00" y1="491.52" x2="73.00" y2="491.52" stroke="#1a1a1a" stroke-width="1.1" stroke-linecap="butt"/>
<line x1="65.00" y1="487.34" x2="73.00" y2="487.34" stroke="#1a1a1a" stroke-width="1.1" stroke-linecap="butt"/>
<line x1="92.60" y1="469.43" x2="92.60" y2="459.88" stroke="#e046f2" stroke-width="1.1" stroke-linecap="butt"/>
<line x1="88.60" y1="459.88" x2="96.60" y2="459.88" stroke="#e046f2" stroke-width="1.1" stroke-linecap="butt"/>
<line x1="88.60" y1="469.43" x2="96.60" y2="469.43" stroke="#e046f2" stroke-width="1.1" stroke-linecap="butt"/>
<line x1="88.60" y1="464.65" x2="96.60" y2="464.65" stroke="#e046f2" stroke-width="1.1" stroke-linecap="butt"/>
<line x1="132.60" y1="456.30" x2="132.60" y2="450.33" stroke="#1a1a1a" stroke-width="1.1" stroke-linecap="butt"/>
<line x1="128.60" y1="450.33" x2="136.60" y2="450.33" stroke="#1a1a1a" stroke-width="1.1" stroke-linecap="butt"/>
<line x1="128.60" y1="456.30" x2="136.60" y2="456.30" stroke="#1a1a1a" stroke-width="1.1" stroke-linecap="butt"/>
<line x1="128.60" y1="453.31" x2="136.60" y2="453.31" stroke="#1a1a1a" stroke-width="1.1" stroke-linecap="butt"/>
<line x1="156.60" y1="453.91" x2="156.60" y2="443.16" stroke="#e046f2" stroke-width="1.1" stroke-linecap="butt"/>
<line x1="152.60" y1="443.16" x2="160.60" y2="443.16" stroke="#e046f2" stroke-width="1.1" stroke-linecap="butt"/>
<line x1="152.60" y1="453.91" x2="160.60" y2="453.91" stroke="#e046f2" stroke-width="1.1" stroke-linecap="butt"/>
<line x1="152.60" y1="448.54" x2="160.60" y2="448.54" stroke="#e046f2" stroke-width="1.1" stroke-linecap="butt"/>
<rect x="66.40" y="472.80" width="5.2" height="5.2" fill="none" stroke="#1a1a1a" stroke-width="1.3"/>
<rect x="61.40" y="484.74" width="5.2" height="5.2" fill="none" stroke="#1a1a1a" stroke-width="1.3"/>
<rect x="71.40" y="484.14" width="5.2" height="5.2" fill="none" stroke="#1a1a1a" stroke-width="1.3"/>
<rect x="61.40" y="488.32" width="5.2" height="5.2" fill="none" stroke="#1a1a1a" stroke-width="1.3"/>
<rect x="71.40" y="487.13" width="5.2" height="5.2" fill="none" stroke="#1a1a1a" stroke-width="1.3"/>
<circle cx="87.50" cy="456.30" r="2.6" fill="none" stroke="#e046f2" stroke-width="1.3"/>
<circle cx="97.50" cy="453.91" r="2.6" fill="none" stroke="#e046f2" stroke-width="1.3"/>
<circle cx="87.50" cy="474.21" r="2.6" fill="none" stroke="#e046f2" stroke-width="1.3"/>
<circle cx="97.50" cy="468.24" r="2.6" fill="none" stroke="#e046f2" stroke-width="1.3"/>
<rect x="124.90" y="447.73" width="5.2" height="5.2" fill="none" stroke="#1a1a1a" stroke-width="1.3"/>
<rect x="135.40" y="442.95" width="5.2" height="5.2" fill="none" stroke="#1a1a1a" stroke-width="1.3"/>
<rect x="124.90" y="454.89" width="5.2" height="5.2" fill="none" stroke="#1a1a1a" stroke-width="1.3"/>
<rect x="135.40" y="454.29" width="5.2" height="5.2" fill="none" stroke="#1a1a1a" stroke-width="1.3"/>
<circle cx="156.60" cy="436.00" r="2.6" fill="none" stroke="#e046f2" stroke-width="1.3"/>
<circle cx="156.60" cy="440.77" r="2.6" fill="none" stroke="#e046f2" stroke-width="1.3"/>
<circle cx="151.50" cy="458.09" r="2.6" fill="none" stroke="#e046f2" stroke-width="1.3"/>
<circle cx="161.50" cy="454.50" r="2.6" fill="none" stroke="#e046f2" stroke-width="1.3"/>
<polyline points="66.20,422.80 66.20,415.30 157.20,415.30 157.20,422.80" fill="none" stroke="#1a1a1a" stroke-width="1.55" stroke-linejoin="miter"/>
<polygon points="105.40,405.80 106.24,407.75 108.35,407.94 106.76,409.34 107.22,411.41 105.40,410.33 103.58,411.41 104.04,409.34 102.45,407.94 104.56,407.75" fill="#000"/>
<polygon points="111.70,405.80 112.54,407.75 114.65,407.94 113.06,409.34 113.52,411.41 111.70,410.33 109.88,411.41 110.34,409.34 108.75,407.94 110.86,407.75" fill="#000"/>
<polygon points="118.00,405.80 118.84,407.75 120.95,407.94 119.36,409.34 119.82,411.41 118.00,410.33 116.18,411.41 116.64,409.34 115.05,407.94 117.16,407.75" fill="#000"/>
<polyline points="66.20,438.00 66.20,430.40 130.90,430.40 130.90,438.00" fill="none" stroke="#1a1a1a" stroke-width="1.55" stroke-linejoin="miter"/>
<polygon points="92.25,420.90 93.09,422.85 95.20,423.04 93.61,424.44 94.07,426.51 92.25,425.43 90.43,426.51 90.89,424.44 89.30,423.04 91.41,422.85" fill="#000"/>
<polygon points="98.55,420.90 99.39,422.85 101.50,423.04 99.91,424.44 100.37,426.51 98.55,425.43 96.73,426.51 97.19,424.44 95.60,423.04 97.71,422.85" fill="#000"/>
<polygon points="104.85,420.90 105.69,422.85 107.80,423.04 106.21,424.44 106.67,426.51 104.85,425.43 103.03,426.51 103.49,424.44 101.90,423.04 104.01,422.85" fill="#000"/>
<line x1="66.20" y1="446.80" x2="89.70" y2="446.80" stroke="#1a1a1a" stroke-width="1.55" stroke-linecap="butt"/>
<polygon points="77.95,437.30 78.79,439.25 80.90,439.44 79.31,440.84 79.77,442.91 77.95,441.83 76.13,442.91 76.59,440.84 75.00,439.44 77.11,439.25" fill="#000"/>
<text x="185.90" y="401.40" font-size="16.2" text-anchor="start" font-weight="bold" font-style="normal" fill="#000" stroke="#000" stroke-width="0.3">I</text>
<line x1="231.80" y1="535.70" x2="231.80" y2="413.65" stroke="#1a1a1a" stroke-width="1.9" stroke-linecap="butt"/>
<line x1="230.85" y1="534.80" x2="348.80" y2="534.80" stroke="#1a1a1a" stroke-width="1.9" stroke-linecap="butt"/>
<line x1="226.80" y1="534.80" x2="231.80" y2="534.80" stroke="#1a1a1a" stroke-width="1.5" stroke-linecap="butt"/>
<text x="225.00" y="538.00" font-size="9.2" text-anchor="end" font-weight="normal" font-style="normal" fill="#1a1a1a" stroke="#1a1a1a" stroke-width="0.14">0</text>
<line x1="226.80" y1="510.75" x2="231.80" y2="510.75" stroke="#1a1a1a" stroke-width="1.5" stroke-linecap="butt"/>
<text x="225.00" y="513.95" font-size="9.2" text-anchor="end" font-weight="normal" font-style="normal" fill="#1a1a1a" stroke="#1a1a1a" stroke-width="0.14">20</text>
<line x1="226.80" y1="486.70" x2="231.80" y2="486.70" stroke="#1a1a1a" stroke-width="1.5" stroke-linecap="butt"/>
<text x="225.00" y="489.90" font-size="9.2" text-anchor="end" font-weight="normal" font-style="normal" fill="#1a1a1a" stroke="#1a1a1a" stroke-width="0.14">40</text>
<line x1="226.80" y1="462.65" x2="231.80" y2="462.65" stroke="#1a1a1a" stroke-width="1.5" stroke-linecap="butt"/>
<text x="225.00" y="465.85" font-size="9.2" text-anchor="end" font-weight="normal" font-style="normal" fill="#1a1a1a" stroke="#1a1a1a" stroke-width="0.14">60</text>
<line x1="226.80" y1="438.60" x2="231.80" y2="438.60" stroke="#1a1a1a" stroke-width="1.5" stroke-linecap="butt"/>
<text x="225.00" y="441.80" font-size="9.2" text-anchor="end" font-weight="normal" font-style="normal" fill="#1a1a1a" stroke="#1a1a1a" stroke-width="0.14">80</text>
<line x1="226.80" y1="414.55" x2="231.80" y2="414.55" stroke="#1a1a1a" stroke-width="1.5" stroke-linecap="butt"/>
<text x="225.00" y="417.75" font-size="9.2" text-anchor="end" font-weight="normal" font-style="normal" fill="#1a1a1a" stroke="#1a1a1a" stroke-width="0.14">100</text>
<line x1="260.30" y1="534.80" x2="260.30" y2="539.60" stroke="#1a1a1a" stroke-width="1.5" stroke-linecap="butt"/>
<line x1="324.50" y1="534.80" x2="324.50" y2="539.60" stroke="#1a1a1a" stroke-width="1.5" stroke-linecap="butt"/>
<text x="258.40" y="552.50" font-size="10.6" text-anchor="middle" font-weight="normal" font-style="normal" fill="#1a1a1a" stroke="#1a1a1a" stroke-width="0.14">-&#945;4-1BB</text>
<text x="321.20" y="552.50" font-size="10.6" text-anchor="middle" font-weight="normal" font-style="normal" fill="#1a1a1a" stroke="#1a1a1a" stroke-width="0.14">+&#945;4-1BB</text>
<text x="203.50" y="477.00" font-size="10.8" text-anchor="middle" font-weight="normal" font-style="normal" fill="#1a1a1a" stroke="#1a1a1a" stroke-width="0.14" transform="rotate(-90 203.50 477.00)">TNF&#945;<tspan dy="-3.5" font-size="6.5">+</tspan><tspan dy="3.5"> CD8</tspan><tspan dy="-3.5" font-size="6.5">+</tspan><tspan dy="3.5"> T cells (%)</tspan></text>
<rect x="241.50" y="492.41" width="13.40" height="42.39" fill="#fff" stroke="#1a1a1a" stroke-width="1.8"/>
<rect x="265.50" y="465.35" width="13.40" height="69.45" fill="#fff" stroke="#1a1a1a" stroke-width="1.8"/>
<rect x="305.20" y="459.94" width="13.40" height="74.86" fill="#fff" stroke="#1a1a1a" stroke-width="1.8"/>
<rect x="329.50" y="457.54" width="13.30" height="77.26" fill="#fff" stroke="#1a1a1a" stroke-width="1.8"/>
<line x1="248.20" y1="494.52" x2="248.20" y2="488.50" stroke="#1a1a1a" stroke-width="1.1" stroke-linecap="butt"/>
<line x1="244.20" y1="488.50" x2="252.20" y2="488.50" stroke="#1a1a1a" stroke-width="1.1" stroke-linecap="butt"/>
<line x1="244.20" y1="494.52" x2="252.20" y2="494.52" stroke="#1a1a1a" stroke-width="1.1" stroke-linecap="butt"/>
<line x1="244.20" y1="491.51" x2="252.20" y2="491.51" stroke="#1a1a1a" stroke-width="1.1" stroke-linecap="butt"/>
<line x1="272.20" y1="466.02" x2="272.20" y2="462.89" stroke="#e046f2" stroke-width="1.1" stroke-linecap="butt"/>
<line x1="268.20" y1="462.89" x2="276.20" y2="462.89" stroke="#e046f2" stroke-width="1.1" stroke-linecap="butt"/>
<line x1="268.20" y1="466.02" x2="276.20" y2="466.02" stroke="#e046f2" stroke-width="1.1" stroke-linecap="butt"/>
<line x1="268.20" y1="464.45" x2="276.20" y2="464.45" stroke="#e046f2" stroke-width="1.1" stroke-linecap="butt"/>
<line x1="312.00" y1="461.45" x2="312.00" y2="456.64" stroke="#1a1a1a" stroke-width="1.1" stroke-linecap="butt"/>
<line x1="308.00" y1="456.64" x2="316.00" y2="456.64" stroke="#1a1a1a" stroke-width="1.1" stroke-linecap="butt"/>
<line x1="308.00" y1="461.45" x2="316.00" y2="461.45" stroke="#1a1a1a" stroke-width="1.1" stroke-linecap="butt"/>
<line x1="308.00" y1="459.04" x2="316.00" y2="459.04" stroke="#1a1a1a" stroke-width="1.1" stroke-linecap="butt"/>
<line x1="336.20" y1="461.45" x2="336.20" y2="451.83" stroke="#e046f2" stroke-width="1.1" stroke-linecap="butt"/>
<line x1="332.20" y1="451.83" x2="340.20" y2="451.83" stroke="#e046f2" stroke-width="1.1" stroke-linecap="butt"/>
<line x1="332.20" y1="461.45" x2="340.20" y2="461.45" stroke="#e046f2" stroke-width="1.1" stroke-linecap="butt"/>
<line x1="332.20" y1="456.64" x2="340.20" y2="456.64" stroke="#e046f2" stroke-width="1.1" stroke-linecap="butt"/>
<rect x="245.60" y="480.49" width="5.2" height="5.2" fill="none" stroke="#1a1a1a" stroke-width="1.3"/>
<rect x="240.40" y="489.51" width="5.2" height="5.2" fill="none" stroke="#1a1a1a" stroke-width="1.3"/>
<rect x="250.40" y="488.31" width="5.2" height="5.2" fill="none" stroke="#1a1a1a" stroke-width="1.3"/>
<rect x="245.40" y="490.11" width="5.2" height="5.2" fill="none" stroke="#1a1a1a" stroke-width="1.3"/>
<circle cx="266.50" cy="461.45" r="2.6" fill="none" stroke="#e046f2" stroke-width="1.3"/>
<circle cx="277.50" cy="461.45" r="2.6" fill="none" stroke="#e046f2" stroke-width="1.3"/>
<circle cx="266.50" cy="466.26" r="2.6" fill="none" stroke="#e046f2" stroke-width="1.3"/>
<circle cx="277.50" cy="466.26" r="2.6" fill="none" stroke="#e046f2" stroke-width="1.3"/>
<circle cx="272.20" cy="464.45" r="2.6" fill="none" stroke="#e046f2" stroke-width="1.3"/>
<rect x="303.90" y="451.63" width="5.2" height="5.2" fill="none" stroke="#1a1a1a" stroke-width="1.3"/>
<rect x="314.40" y="455.24" width="5.2" height="5.2" fill="none" stroke="#1a1a1a" stroke-width="1.3"/>
<rect x="309.40" y="460.05" width="5.2" height="5.2" fill="none" stroke="#1a1a1a" stroke-width="1.3"/>
<rect x="309.40" y="461.85" width="5.2" height="5.2" fill="none" stroke="#1a1a1a" stroke-width="1.3"/>
<circle cx="336.20" cy="442.81" r="2.6" fill="none" stroke="#e046f2" stroke-width="1.3"/>
<circle cx="336.20" cy="452.43" r="2.6" fill="none" stroke="#e046f2" stroke-width="1.3"/>
<circle cx="330.50" cy="464.45" r="2.6" fill="none" stroke="#e046f2" stroke-width="1.3"/>
<circle cx="341.50" cy="462.05" r="2.6" fill="none" stroke="#e046f2" stroke-width="1.3"/>
<polyline points="242.70,436.20 242.70,429.20 316.40,429.20 316.40,436.20" fill="none" stroke="#1a1a1a" stroke-width="1.55" stroke-linejoin="miter"/>
<polygon points="270.10,419.70 270.94,421.65 273.05,421.84 271.46,423.24 271.92,425.31 270.10,424.23 268.28,425.31 268.74,423.24 267.15,421.84 269.26,421.65" fill="#000"/>
<polygon points="276.40,419.70 277.24,421.65 279.35,421.84 277.76,423.24 278.22,425.31 276.40,424.23 274.58,425.31 275.04,423.24 273.45,421.84 275.56,421.65" fill="#000"/>
<polygon points="282.70,419.70 283.54,421.65 285.65,421.84 284.06,423.24 284.52,425.31 282.70,424.23 280.88,425.31 281.34,423.24 279.75,421.84 281.86,421.65" fill="#000"/>
<polygon points="289.00,419.70 289.84,421.65 291.95,421.84 290.36,423.24 290.82,425.31 289.00,424.23 287.18,425.31 287.64,423.24 286.05,421.84 288.16,421.65" fill="#000"/>
<line x1="242.70" y1="450.00" x2="271.70" y2="450.00" stroke="#1a1a1a" stroke-width="1.55" stroke-linecap="butt"/>
<polygon points="250.90,440.50 251.74,442.45 253.85,442.64 252.26,444.04 252.72,446.11 250.90,445.03 249.08,446.11 249.54,444.04 247.95,442.64 250.06,442.45" fill="#000"/>
<polygon points="257.20,440.50 258.04,442.45 260.15,442.64 258.56,444.04 259.02,446.11 257.20,445.03 255.38,446.11 255.84,444.04 254.25,442.64 256.36,442.45" fill="#000"/>
<polygon points="263.50,440.50 264.34,442.45 266.45,442.64 264.86,444.04 265.32,446.11 263.50,445.03 261.68,446.11 262.14,444.04 260.55,442.64 262.66,442.45" fill="#000"/>
<text x="365.50" y="401.20" font-size="16.2" text-anchor="start" font-weight="bold" font-style="normal" fill="#000" stroke="#000" stroke-width="0.3">J</text>
<line x1="409.70" y1="536.20" x2="409.70" y2="410.80" stroke="#1a1a1a" stroke-width="1.9" stroke-linecap="butt"/>
<line x1="408.75" y1="535.30" x2="526.00" y2="535.30" stroke="#1a1a1a" stroke-width="1.9" stroke-linecap="butt"/>
<line x1="404.70" y1="535.30" x2="409.70" y2="535.30" stroke="#1a1a1a" stroke-width="1.5" stroke-linecap="butt"/>
<text x="402.90" y="538.50" font-size="9.2" text-anchor="end" font-weight="normal" font-style="normal" fill="#1a1a1a" stroke="#1a1a1a" stroke-width="0.14">0</text>
<line x1="404.70" y1="504.40" x2="409.70" y2="504.40" stroke="#1a1a1a" stroke-width="1.5" stroke-linecap="butt"/>
<text x="402.90" y="507.60" font-size="9.2" text-anchor="end" font-weight="normal" font-style="normal" fill="#1a1a1a" stroke="#1a1a1a" stroke-width="0.14">15</text>
<line x1="404.70" y1="473.50" x2="409.70" y2="473.50" stroke="#1a1a1a" stroke-width="1.5" stroke-linecap="butt"/>
<text x="402.90" y="476.70" font-size="9.2" text-anchor="end" font-weight="normal" font-style="normal" fill="#1a1a1a" stroke="#1a1a1a" stroke-width="0.14">30</text>
<line x1="404.70" y1="442.60" x2="409.70" y2="442.60" stroke="#1a1a1a" stroke-width="1.5" stroke-linecap="butt"/>
<text x="402.90" y="445.80" font-size="9.2" text-anchor="end" font-weight="normal" font-style="normal" fill="#1a1a1a" stroke="#1a1a1a" stroke-width="0.14">45</text>
<line x1="404.70" y1="411.70" x2="409.70" y2="411.70" stroke="#1a1a1a" stroke-width="1.5" stroke-linecap="butt"/>
<text x="402.90" y="414.90" font-size="9.2" text-anchor="end" font-weight="normal" font-style="normal" fill="#1a1a1a" stroke="#1a1a1a" stroke-width="0.14">60</text>
<line x1="437.70" y1="535.30" x2="437.70" y2="540.10" stroke="#1a1a1a" stroke-width="1.5" stroke-linecap="butt"/>
<line x1="503.90" y1="535.30" x2="503.90" y2="540.10" stroke="#1a1a1a" stroke-width="1.5" stroke-linecap="butt"/>
<text x="441.00" y="552.50" font-size="10.6" text-anchor="middle" font-weight="normal" font-style="normal" fill="#1a1a1a" stroke="#1a1a1a" stroke-width="0.14">-&#945;4-1BB</text>
<text x="503.90" y="552.50" font-size="10.6" text-anchor="middle" font-weight="normal" font-style="normal" fill="#1a1a1a" stroke="#1a1a1a" stroke-width="0.14">+&#945;4-1BB</text>
<text x="384.50" y="473.40" font-size="10.8" text-anchor="middle" font-weight="normal" font-style="normal" fill="#1a1a1a" stroke="#1a1a1a" stroke-width="0.14" transform="rotate(-90 384.50 473.40)">PD-1<tspan dy="-3.5" font-size="6.5">+</tspan><tspan dy="3.5"> cells (%)</tspan></text>
<rect x="418.40" y="441.44" width="13.90" height="93.86" fill="#fff" stroke="#1a1a1a" stroke-width="1.8"/>
<rect x="443.70" y="481.61" width="13.80" height="53.69" fill="#fff" stroke="#1a1a1a" stroke-width="1.8"/>
<rect x="484.60" y="451.74" width="14.10" height="83.56" fill="#fff" stroke="#1a1a1a" stroke-width="1.8"/>
<rect x="509.40" y="499.12" width="13.70" height="36.18" fill="#fff" stroke="#1a1a1a" stroke-width="1.8"/>
<line x1="425.30" y1="447.75" x2="425.30" y2="433.33" stroke="#1a1a1a" stroke-width="1.1" stroke-linecap="butt"/>
<line x1="421.30" y1="433.33" x2="429.30" y2="433.33" stroke="#1a1a1a" stroke-width="1.1" stroke-linecap="butt"/>
<line x1="421.30" y1="447.75" x2="429.30" y2="447.75" stroke="#1a1a1a" stroke-width="1.1" stroke-linecap="butt"/>
<line x1="421.30" y1="440.54" x2="429.30" y2="440.54" stroke="#1a1a1a" stroke-width="1.1" stroke-linecap="butt"/>
<line x1="450.60" y1="486.89" x2="450.60" y2="474.53" stroke="#e046f2" stroke-width="1.1" stroke-linecap="butt"/>
<line x1="446.60" y1="474.53" x2="454.60" y2="474.53" stroke="#e046f2" stroke-width="1.1" stroke-linecap="butt"/>
<line x1="446.60" y1="486.89" x2="454.60" y2="486.89" stroke="#e046f2" stroke-width="1.1" stroke-linecap="butt"/>
<line x1="446.60" y1="480.71" x2="454.60" y2="480.71" stroke="#e046f2" stroke-width="1.1" stroke-linecap="butt"/>
<line x1="491.60" y1="459.08" x2="491.60" y2="442.60" stroke="#1a1a1a" stroke-width="1.1" stroke-linecap="butt"/>
<line x1="487.60" y1="442.60" x2="495.60" y2="442.60" stroke="#1a1a1a" stroke-width="1.1" stroke-linecap="butt"/>
<line x1="487.60" y1="459.08" x2="495.60" y2="459.08" stroke="#1a1a1a" stroke-width="1.1" stroke-linecap="butt"/>
<line x1="487.60" y1="450.84" x2="495.60" y2="450.84" stroke="#1a1a1a" stroke-width="1.1" stroke-linecap="butt"/>
<line x1="516.20" y1="508.52" x2="516.20" y2="487.92" stroke="#e046f2" stroke-width="1.1" stroke-linecap="butt"/>
<line x1="512.20" y1="487.92" x2="520.20" y2="487.92" stroke="#e046f2" stroke-width="1.1" stroke-linecap="butt"/>
<line x1="512.20" y1="508.52" x2="520.20" y2="508.52" stroke="#e046f2" stroke-width="1.1" stroke-linecap="butt"/>
<line x1="512.20" y1="498.22" x2="520.20" y2="498.22" stroke="#e046f2" stroke-width="1.1" stroke-linecap="butt"/>
<rect x="422.70" y="419.40" width="5.2" height="5.2" fill="none" stroke="#1a1a1a" stroke-width="1.3"/>
<rect x="422.70" y="433.82" width="5.2" height="5.2" fill="none" stroke="#1a1a1a" stroke-width="1.3"/>
<rect x="417.90" y="450.30" width="5.2" height="5.2" fill="none" stroke="#1a1a1a" stroke-width="1.3"/>
<rect x="427.90" y="444.12" width="5.2" height="5.2" fill="none" stroke="#1a1a1a" stroke-width="1.3"/>
<circle cx="450.60" cy="463.20" r="2.6" fill="none" stroke="#e046f2" stroke-width="1.3"/>
<circle cx="446.00" cy="482.77" r="2.6" fill="none" stroke="#e046f2" stroke-width="1.3"/>
<circle cx="455.00" cy="483.80" r="2.6" fill="none" stroke="#e046f2" stroke-width="1.3"/>
<circle cx="450.60" cy="489.98" r="2.6" fill="none" stroke="#e046f2" stroke-width="1.3"/>
<rect x="489.00" y="425.58" width="5.2" height="5.2" fill="none" stroke="#1a1a1a" stroke-width="1.3"/>
<rect x="489.00" y="448.24" width="5.2" height="5.2" fill="none" stroke="#1a1a1a" stroke-width="1.3"/>
<rect x="489.00" y="455.45" width="5.2" height="5.2" fill="none" stroke="#1a1a1a" stroke-width="1.3"/>
<rect x="489.00" y="462.66" width="5.2" height="5.2" fill="none" stroke="#1a1a1a" stroke-width="1.3"/>
<circle cx="511.00" cy="486.89" r="2.6" fill="none" stroke="#e046f2" stroke-width="1.3"/>
<circle cx="522.00" cy="487.92" r="2.6" fill="none" stroke="#e046f2" stroke-width="1.3"/>
<circle cx="516.20" cy="518.82" r="2.6" fill="none" stroke="#e046f2" stroke-width="1.3"/>
<line x1="424.30" y1="412.00" x2="453.40" y2="412.00" stroke="#1a1a1a" stroke-width="1.55" stroke-linecap="butt"/>
<polygon points="435.70,402.50 436.54,404.45 438.65,404.64 437.06,406.04 437.52,408.11 435.70,407.03 433.88,408.11 434.34,406.04 432.75,404.64 434.86,404.45" fill="#000"/>
<polygon points="442.00,402.50 442.84,404.45 444.95,404.64 443.36,406.04 443.82,408.11 442.00,407.03 440.18,408.11 440.64,406.04 439.05,404.64 441.16,404.45" fill="#000"/>
<line x1="490.80" y1="417.30" x2="519.80" y2="417.30" stroke="#1a1a1a" stroke-width="1.55" stroke-linecap="butt"/>
<polygon points="502.15,407.80 502.99,409.75 505.10,409.94 503.51,411.34 503.97,413.41 502.15,412.33 500.33,413.41 500.79,411.34 499.20,409.94 501.31,409.75" fill="#000"/>
<polygon points="508.45,407.80 509.29,409.75 511.40,409.94 509.81,411.34 510.27,413.41 508.45,412.33 506.63,413.41 507.09,411.34 505.50,409.94 507.61,409.75" fill="#000"/>
<text x="542.80" y="401.20" font-size="16.2" text-anchor="start" font-weight="bold" font-style="normal" fill="#000" stroke="#000" stroke-width="0.3">K</text>
<line x1="585.00" y1="535.60" x2="585.00" y2="410.00" stroke="#1a1a1a" stroke-width="1.9" stroke-linecap="butt"/>
<line x1="584.05" y1="534.70" x2="708.60" y2="534.70" stroke="#1a1a1a" stroke-width="1.9" stroke-linecap="butt"/>
<line x1="580.00" y1="534.70" x2="585.00" y2="534.70" stroke="#1a1a1a" stroke-width="1.5" stroke-linecap="butt"/>
<text x="578.20" y="537.90" font-size="9.2" text-anchor="end" font-weight="normal" font-style="normal" fill="#1a1a1a" stroke="#1a1a1a" stroke-width="0.14">0</text>
<line x1="580.00" y1="503.75" x2="585.00" y2="503.75" stroke="#1a1a1a" stroke-width="1.5" stroke-linecap="butt"/>
<text x="578.20" y="506.95" font-size="9.2" text-anchor="end" font-weight="normal" font-style="normal" fill="#1a1a1a" stroke="#1a1a1a" stroke-width="0.14">10</text>
<line x1="580.00" y1="472.80" x2="585.00" y2="472.80" stroke="#1a1a1a" stroke-width="1.5" stroke-linecap="butt"/>
<text x="578.20" y="476.00" font-size="9.2" text-anchor="end" font-weight="normal" font-style="normal" fill="#1a1a1a" stroke="#1a1a1a" stroke-width="0.14">20</text>
<line x1="580.00" y1="441.85" x2="585.00" y2="441.85" stroke="#1a1a1a" stroke-width="1.5" stroke-linecap="butt"/>
<text x="578.20" y="445.05" font-size="9.2" text-anchor="end" font-weight="normal" font-style="normal" fill="#1a1a1a" stroke="#1a1a1a" stroke-width="0.14">30</text>
<line x1="580.00" y1="410.90" x2="585.00" y2="410.90" stroke="#1a1a1a" stroke-width="1.5" stroke-linecap="butt"/>
<text x="578.20" y="414.10" font-size="9.2" text-anchor="end" font-weight="normal" font-style="normal" fill="#1a1a1a" stroke="#1a1a1a" stroke-width="0.14">40</text>
<line x1="613.60" y1="534.70" x2="613.60" y2="539.50" stroke="#1a1a1a" stroke-width="1.5" stroke-linecap="butt"/>
<line x1="680.00" y1="534.70" x2="680.00" y2="539.50" stroke="#1a1a1a" stroke-width="1.5" stroke-linecap="butt"/>
<text x="616.50" y="552.30" font-size="10.6" text-anchor="middle" font-weight="normal" font-style="normal" fill="#1a1a1a" stroke="#1a1a1a" stroke-width="0.14">-&#945;4-1BB</text>
<text x="680.00" y="552.30" font-size="10.6" text-anchor="middle" font-weight="normal" font-style="normal" fill="#1a1a1a" stroke="#1a1a1a" stroke-width="0.14">+&#945;4-1BB</text>
<text x="561.40" y="472.80" font-size="10.8" text-anchor="middle" font-weight="normal" font-style="normal" fill="#1a1a1a" stroke="#1a1a1a" stroke-width="0.14" transform="rotate(-90 561.40 472.80)">CD39<tspan dy="-3.5" font-size="6.5">+</tspan><tspan dy="3.5"> cells (%)</tspan></text>
<rect x="594.10" y="441.20" width="14.30" height="93.50" fill="#fff" stroke="#1a1a1a" stroke-width="1.8"/>
<rect x="619.10" y="445.85" width="14.00" height="88.85" fill="#fff" stroke="#1a1a1a" stroke-width="1.8"/>
<rect x="660.50" y="484.53" width="14.20" height="50.17" fill="#fff" stroke="#1a1a1a" stroke-width="1.8"/>
<rect x="685.50" y="518.58" width="14.00" height="16.12" fill="#fff" stroke="#1a1a1a" stroke-width="1.8"/>
<line x1="601.50" y1="448.97" x2="601.50" y2="431.64" stroke="#1a1a1a" stroke-width="1.1" stroke-linecap="butt"/>
<line x1="597.50" y1="431.64" x2="605.50" y2="431.64" stroke="#1a1a1a" stroke-width="1.1" stroke-linecap="butt"/>
<line x1="597.50" y1="448.97" x2="605.50" y2="448.97" stroke="#1a1a1a" stroke-width="1.1" stroke-linecap="butt"/>
<line x1="597.50" y1="440.30" x2="605.50" y2="440.30" stroke="#1a1a1a" stroke-width="1.1" stroke-linecap="butt"/>
<line x1="626.40" y1="459.49" x2="626.40" y2="430.40" stroke="#e046f2" stroke-width="1.1" stroke-linecap="butt"/>
<line x1="622.40" y1="430.40" x2="630.40" y2="430.40" stroke="#e046f2" stroke-width="1.1" stroke-linecap="butt"/>
<line x1="622.40" y1="459.49" x2="630.40" y2="459.49" stroke="#e046f2" stroke-width="1.1" stroke-linecap="butt"/>
<line x1="622.40" y1="444.95" x2="630.40" y2="444.95" stroke="#e046f2" stroke-width="1.1" stroke-linecap="butt"/>
<line x1="667.80" y1="492.30" x2="667.80" y2="474.97" stroke="#1a1a1a" stroke-width="1.1" stroke-linecap="butt"/>
<line x1="663.80" y1="474.97" x2="671.80" y2="474.97" stroke="#1a1a1a" stroke-width="1.1" stroke-linecap="butt"/>
<line x1="663.80" y1="492.30" x2="671.80" y2="492.30" stroke="#1a1a1a" stroke-width="1.1" stroke-linecap="butt"/>
<line x1="663.80" y1="483.63" x2="671.80" y2="483.63" stroke="#1a1a1a" stroke-width="1.1" stroke-linecap="butt"/>
<line x1="692.50" y1="520.15" x2="692.50" y2="515.20" stroke="#e046f2" stroke-width="1.1" stroke-linecap="butt"/>
<line x1="688.50" y1="515.20" x2="696.50" y2="515.20" stroke="#e046f2" stroke-width="1.1" stroke-linecap="butt"/>
<line x1="688.50" y1="520.15" x2="696.50" y2="520.15" stroke="#e046f2" stroke-width="1.1" stroke-linecap="butt"/>
<line x1="688.50" y1="517.68" x2="696.50" y2="517.68" stroke="#e046f2" stroke-width="1.1" stroke-linecap="butt"/>
<rect x="598.90" y="414.49" width="5.2" height="5.2" fill="none" stroke="#1a1a1a" stroke-width="1.3"/>
<rect x="598.90" y="440.80" width="5.2" height="5.2" fill="none" stroke="#1a1a1a" stroke-width="1.3"/>
<rect x="598.90" y="445.44" width="5.2" height="5.2" fill="none" stroke="#1a1a1a" stroke-width="1.3"/>
<rect x="598.90" y="450.08" width="5.2" height="5.2" fill="none" stroke="#1a1a1a" stroke-width="1.3"/>
<circle cx="626.40" cy="415.54" r="2.6" fill="none" stroke="#e046f2" stroke-width="1.3"/>
<circle cx="626.40" cy="424.83" r="2.6" fill="none" stroke="#e046f2" stroke-width="1.3"/>
<circle cx="626.40" cy="458.87" r="2.6" fill="none" stroke="#e046f2" stroke-width="1.3"/>
<circle cx="626.40" cy="477.44" r="2.6" fill="none" stroke="#e046f2" stroke-width="1.3"/>
<rect x="665.20" y="459.37" width="5.2" height="5.2" fill="none" stroke="#1a1a1a" stroke-width="1.3"/>
<rect x="665.20" y="479.49" width="5.2" height="5.2" fill="none" stroke="#1a1a1a" stroke-width="1.3"/>
<rect x="659.40" y="494.96" width="5.2" height="5.2" fill="none" stroke="#1a1a1a" stroke-width="1.3"/>
<rect x="670.90" y="491.87" width="5.2" height="5.2" fill="none" stroke="#1a1a1a" stroke-width="1.3"/>
<circle cx="687.50" cy="516.13" r="2.6" fill="none" stroke="#e046f2" stroke-width="1.3"/>
<circle cx="697.50" cy="513.04" r="2.6" fill="none" stroke="#e046f2" stroke-width="1.3"/>
<circle cx="687.50" cy="520.77" r="2.6" fill="none" stroke="#e046f2" stroke-width="1.3"/>
<circle cx="697.50" cy="519.23" r="2.6" fill="none" stroke="#e046f2" stroke-width="1.3"/>
<polyline points="594.00,370.00 594.00,363.40 692.80,363.40 692.80,370.00" fill="none" stroke="#1a1a1a" stroke-width="1.55" stroke-linejoin="miter"/>
<polygon points="637.10,353.90 637.94,355.85 640.05,356.04 638.46,357.44 638.92,359.51 637.10,358.43 635.28,359.51 635.74,357.44 634.15,356.04 636.26,355.85" fill="#000"/>
<polygon points="643.40,353.90 644.24,355.85 646.35,356.04 644.76,357.44 645.22,359.51 643.40,358.43 641.58,359.51 642.04,357.44 640.45,356.04 642.56,355.85" fill="#000"/>
<polygon points="649.70,353.90 650.54,355.85 652.65,356.04 651.06,357.44 651.52,359.51 649.70,358.43 647.88,359.51 648.34,357.44 646.75,356.04 648.86,355.85" fill="#000"/>
<polyline points="594.00,382.80 594.00,376.40 659.00,376.40 659.00,382.80" fill="none" stroke="#1a1a1a" stroke-width="1.55" stroke-linejoin="miter"/>
<polygon points="626.50,366.90 627.34,368.85 629.45,369.04 627.86,370.44 628.32,372.51 626.50,371.43 624.68,372.51 625.14,370.44 623.55,369.04 625.66,368.85" fill="#000"/>
<polyline points="626.40,401.70 626.40,394.80 692.80,394.80 692.80,401.70" fill="none" stroke="#1a1a1a" stroke-width="1.55" stroke-linejoin="miter"/>
<polygon points="653.30,385.30 654.14,387.25 656.25,387.44 654.66,388.84 655.12,390.91 653.30,389.83 651.48,390.91 651.94,388.84 650.35,387.44 652.46,387.25" fill="#000"/>
<polygon points="659.60,385.30 660.44,387.25 662.55,387.44 660.96,388.84 661.42,390.91 659.60,389.83 657.78,390.91 658.24,388.84 656.65,387.44 658.76,387.25" fill="#000"/>
<polygon points="665.90,385.30 666.74,387.25 668.85,387.44 667.26,388.84 667.72,390.91 665.90,389.83 664.08,390.91 664.54,388.84 662.95,387.44 665.06,387.25" fill="#000"/>
<polyline points="626.40,412.70 626.40,406.30 668.50,406.30 668.50,412.70" fill="none" stroke="#1a1a1a" stroke-width="1.55" stroke-linejoin="miter"/>
<polygon points="647.45,396.80 648.29,398.75 650.40,398.94 648.81,400.34 649.27,402.41 647.45,401.33 645.63,402.41 646.09,400.34 644.50,398.94 646.61,398.75" fill="#000"/>
<text x="545.80" y="592.80" font-size="16.2" text-anchor="start" font-weight="bold" font-style="normal" fill="#000" stroke="#000" stroke-width="0.3">M</text>
<line x1="593.00" y1="727.70" x2="593.00" y2="604.40" stroke="#1a1a1a" stroke-width="1.9" stroke-linecap="butt"/>
<line x1="592.05" y1="726.80" x2="714.80" y2="726.80" stroke="#1a1a1a" stroke-width="1.9" stroke-linecap="butt"/>
<line x1="588.00" y1="726.80" x2="593.00" y2="726.80" stroke="#1a1a1a" stroke-width="1.5" stroke-linecap="butt"/>
<text x="586.20" y="730.00" font-size="9.2" text-anchor="end" font-weight="normal" font-style="normal" fill="#1a1a1a" stroke="#1a1a1a" stroke-width="0.14">0</text>
<line x1="588.00" y1="702.50" x2="593.00" y2="702.50" stroke="#1a1a1a" stroke-width="1.5" stroke-linecap="butt"/>
<text x="586.20" y="705.70" font-size="9.2" text-anchor="end" font-weight="normal" font-style="normal" fill="#1a1a1a" stroke="#1a1a1a" stroke-width="0.14">5</text>
<line x1="588.00" y1="678.20" x2="593.00" y2="678.20" stroke="#1a1a1a" stroke-width="1.5" stroke-linecap="butt"/>
<text x="586.20" y="681.40" font-size="9.2" text-anchor="end" font-weight="normal" font-style="normal" fill="#1a1a1a" stroke="#1a1a1a" stroke-width="0.14">10</text>
<line x1="588.00" y1="653.90" x2="593.00" y2="653.90" stroke="#1a1a1a" stroke-width="1.5" stroke-linecap="butt"/>
<text x="586.20" y="657.10" font-size="9.2" text-anchor="end" font-weight="normal" font-style="normal" fill="#1a1a1a" stroke="#1a1a1a" stroke-width="0.14">15</text>
<line x1="588.00" y1="629.60" x2="593.00" y2="629.60" stroke="#1a1a1a" stroke-width="1.5" stroke-linecap="butt"/>
<text x="586.20" y="632.80" font-size="9.2" text-anchor="end" font-weight="normal" font-style="normal" fill="#1a1a1a" stroke="#1a1a1a" stroke-width="0.14">20</text>
<line x1="588.00" y1="605.30" x2="593.00" y2="605.30" stroke="#1a1a1a" stroke-width="1.5" stroke-linecap="butt"/>
<text x="586.20" y="608.50" font-size="9.2" text-anchor="end" font-weight="normal" font-style="normal" fill="#1a1a1a" stroke="#1a1a1a" stroke-width="0.14">25</text>
<line x1="611.90" y1="726.80" x2="611.90" y2="731.60" stroke="#1a1a1a" stroke-width="1.5" stroke-linecap="butt"/>
<line x1="640.00" y1="726.80" x2="640.00" y2="731.60" stroke="#1a1a1a" stroke-width="1.5" stroke-linecap="butt"/>
<line x1="667.70" y1="726.80" x2="667.70" y2="731.60" stroke="#1a1a1a" stroke-width="1.5" stroke-linecap="butt"/>
<line x1="695.90" y1="726.80" x2="695.90" y2="731.60" stroke="#1a1a1a" stroke-width="1.5" stroke-linecap="butt"/>
<text x="561.50" y="665.90" font-size="10.5" text-anchor="middle" font-weight="normal" font-style="normal" fill="#1a1a1a" stroke="#1a1a1a" stroke-width="0.14" transform="rotate(-90 561.50 665.90)">Cristae folds</text>
<rect x="603.80" y="711.66" width="16.20" height="15.14" fill="#fff" stroke="#1a1a1a" stroke-width="1.8"/>
<rect x="631.90" y="676.18" width="15.70" height="50.62" fill="#fff" stroke="#2a3cf0" stroke-width="1.8"/>
<rect x="659.90" y="677.64" width="15.90" height="49.16" fill="#fff" stroke="#a27b50" stroke-width="1.8"/>
<rect x="688.10" y="640.22" width="16.00" height="86.58" fill="#fff" stroke="#e8321e" stroke-width="1.8"/>
<line x1="612.00" y1="715.62" x2="612.00" y2="705.90" stroke="#1a1a1a" stroke-width="1.1" stroke-linecap="butt"/>
<line x1="608.00" y1="705.90" x2="616.00" y2="705.90" stroke="#1a1a1a" stroke-width="1.1" stroke-linecap="butt"/>
<line x1="608.00" y1="715.62" x2="616.00" y2="715.62" stroke="#1a1a1a" stroke-width="1.1" stroke-linecap="butt"/>
<line x1="608.00" y1="710.76" x2="616.00" y2="710.76" stroke="#1a1a1a" stroke-width="1.1" stroke-linecap="butt"/>
<line x1="639.70" y1="679.17" x2="639.70" y2="671.40" stroke="#2a3cf0" stroke-width="1.1" stroke-linecap="butt"/>
<line x1="635.70" y1="671.40" x2="643.70" y2="671.40" stroke="#2a3cf0" stroke-width="1.1" stroke-linecap="butt"/>
<line x1="635.70" y1="679.17" x2="643.70" y2="679.17" stroke="#2a3cf0" stroke-width="1.1" stroke-linecap="butt"/>
<line x1="635.70" y1="675.28" x2="643.70" y2="675.28" stroke="#2a3cf0" stroke-width="1.1" stroke-linecap="butt"/>
<line x1="667.80" y1="681.12" x2="667.80" y2="672.37" stroke="#a27b50" stroke-width="1.1" stroke-linecap="butt"/>
<line x1="663.80" y1="672.37" x2="671.80" y2="672.37" stroke="#a27b50" stroke-width="1.1" stroke-linecap="butt"/>
<line x1="663.80" y1="681.12" x2="671.80" y2="681.12" stroke="#a27b50" stroke-width="1.1" stroke-linecap="butt"/>
<line x1="663.80" y1="676.74" x2="671.80" y2="676.74" stroke="#a27b50" stroke-width="1.1" stroke-linecap="butt"/>
<line x1="696.10" y1="652.44" x2="696.10" y2="626.20" stroke="#e8321e" stroke-width="1.1" stroke-linecap="butt"/>
<line x1="692.10" y1="626.20" x2="700.10" y2="626.20" stroke="#e8321e" stroke-width="1.1" stroke-linecap="butt"/>
<line x1="692.10" y1="652.44" x2="700.10" y2="652.44" stroke="#e8321e" stroke-width="1.1" stroke-linecap="butt"/>
<line x1="692.10" y1="639.32" x2="700.10" y2="639.32" stroke="#e8321e" stroke-width="1.1" stroke-linecap="butt"/>
<circle cx="612.00" cy="704.93" r="2.4" fill="#1a1a1a"/>
<circle cx="612.00" cy="712.22" r="2.4" fill="#1a1a1a"/>
<circle cx="612.00" cy="717.08" r="2.4" fill="#1a1a1a"/>
<rect x="637.60" y="667.05" width="4.8" height="4.8" fill="#2a3cf0" stroke="#2a3cf0" stroke-width="0.5"/>
<rect x="632.60" y="674.83" width="4.8" height="4.8" fill="#2a3cf0" stroke="#2a3cf0" stroke-width="0.5"/>
<rect x="642.60" y="674.83" width="4.8" height="4.8" fill="#2a3cf0" stroke="#2a3cf0" stroke-width="0.5"/>
<polygon points="665.05,675.73 670.55,675.73 667.80,670.95" fill="#a27b50"/>
<polygon points="665.05,680.59 670.55,680.59 667.80,675.81" fill="#a27b50"/>
<polygon points="665.05,686.42 670.55,686.42 667.80,681.64" fill="#a27b50"/>
<polygon points="693.35,612.14 698.85,612.14 696.10,616.93" fill="#e8321e"/>
<polygon points="693.35,640.82 698.85,640.82 696.10,645.60" fill="#e8321e"/>
<polygon points="693.35,655.88 698.85,655.88 696.10,660.67" fill="#e8321e"/>
<polyline points="606.80,585.50 606.80,579.00 695.90,579.00 695.90,585.50" fill="none" stroke="#1a1a1a" stroke-width="1.55" stroke-linejoin="miter"/>
<polygon points="645.05,569.50 645.89,571.45 648.00,571.64 646.41,573.04 646.87,575.11 645.05,574.03 643.23,575.11 643.69,573.04 642.10,571.64 644.21,571.45" fill="#000"/>
<polygon points="651.35,569.50 652.19,571.45 654.30,571.64 652.71,573.04 653.17,575.11 651.35,574.03 649.53,575.11 649.99,573.04 648.40,571.64 650.51,571.45" fill="#000"/>
<polygon points="657.65,569.50 658.49,571.45 660.60,571.64 659.01,573.04 659.47,575.11 657.65,574.03 655.83,575.11 656.29,573.04 654.70,571.64 656.81,571.45" fill="#000"/>
<polyline points="638.70,599.60 638.70,593.10 695.90,593.10 695.90,599.60" fill="none" stroke="#1a1a1a" stroke-width="1.55" stroke-linejoin="miter"/>
<polygon points="667.30,583.60 668.14,585.55 670.25,585.74 668.66,587.14 669.12,589.21 667.30,588.13 665.48,589.21 665.94,587.14 664.35,585.74 666.46,585.55" fill="#000"/>
<line x1="664.00" y1="610.00" x2="696.50" y2="610.00" stroke="#1a1a1a" stroke-width="1.55" stroke-linecap="butt"/>
<polygon points="680.25,600.50 681.09,602.45 683.20,602.64 681.61,604.04 682.07,606.11 680.25,605.03 678.43,606.11 678.89,604.04 677.30,602.64 679.41,602.45" fill="#000"/>
<polyline points="610.00,643.90 610.00,637.00 668.30,637.00 668.30,643.90" fill="none" stroke="#1a1a1a" stroke-width="1.55" stroke-linejoin="miter"/>
<polygon points="639.15,627.50 639.99,629.45 642.10,629.64 640.51,631.04 640.97,633.11 639.15,632.03 637.33,633.11 637.79,631.04 636.20,629.64 638.31,629.45" fill="#000"/>
<line x1="610.00" y1="656.80" x2="638.00" y2="656.80" stroke="#1a1a1a" stroke-width="1.55" stroke-linecap="butt"/>
<polygon points="624.00,647.30 624.84,649.25 626.95,649.44 625.36,650.84 625.82,652.91 624.00,651.83 622.18,652.91 622.64,650.84 621.05,649.44 623.16,649.25" fill="#000"/>
<text x="614.90" y="738.50" font-size="10" text-anchor="end" font-weight="normal" font-style="normal" fill="#1a1a1a" stroke="#1a1a1a" stroke-width="0.14" transform="rotate(-45 614.90 738.50)">WT</text>
<text x="643.00" y="738.50" font-size="10" text-anchor="end" font-weight="normal" font-style="normal" fill="#1a1a1a" stroke="#1a1a1a" stroke-width="0.14" transform="rotate(-45 643.00 738.50)">WT+<tspan font-style="italic">&#945;</tspan>4-1BB</text>
<text x="670.70" y="738.50" font-size="10" text-anchor="end" font-weight="normal" font-style="normal" fill="#1a1a1a" stroke="#1a1a1a" stroke-width="0.14" transform="rotate(-45 670.70 738.50)">A2BR<tspan dy="-3.5" font-size="6.5">-/-</tspan></text>
<text x="698.90" y="738.50" font-size="10" text-anchor="end" font-weight="normal" font-style="normal" fill="#1a1a1a" stroke="#1a1a1a" stroke-width="0.14" transform="rotate(-45 698.90 738.50)">A2BR<tspan dy="-3.5" font-size="6.5">-/-</tspan><tspan dy="3.5"> +</tspan><tspan font-style="italic">&#945;</tspan>4-1BB</text>
<text x="-0.20" y="758.20" font-size="16.2" text-anchor="start" font-weight="bold" font-style="normal" fill="#000" stroke="#000" stroke-width="0.3">N</text>
<line x1="45.80" y1="885.70" x2="45.80" y2="780.90" stroke="#1a1a1a" stroke-width="1.9" stroke-linecap="butt"/>
<line x1="44.85" y1="884.80" x2="148.60" y2="884.80" stroke="#1a1a1a" stroke-width="1.9" stroke-linecap="butt"/>
<line x1="40.80" y1="884.80" x2="45.80" y2="884.80" stroke="#1a1a1a" stroke-width="1.5" stroke-linecap="butt"/>
<text x="40.20" y="888.00" font-size="8.8" text-anchor="end" font-weight="normal" font-style="normal" fill="#1a1a1a" stroke="#1a1a1a" stroke-width="0.14">0</text>
<line x1="40.80" y1="864.20" x2="45.80" y2="864.20" stroke="#1a1a1a" stroke-width="1.5" stroke-linecap="butt"/>
<text x="40.20" y="867.40" font-size="8.8" text-anchor="end" font-weight="normal" font-style="normal" fill="#1a1a1a" stroke="#1a1a1a" stroke-width="0.14">10</text>
<line x1="40.80" y1="843.60" x2="45.80" y2="843.60" stroke="#1a1a1a" stroke-width="1.5" stroke-linecap="butt"/>
<text x="40.20" y="846.80" font-size="8.8" text-anchor="end" font-weight="normal" font-style="normal" fill="#1a1a1a" stroke="#1a1a1a" stroke-width="0.14">20</text>
<line x1="40.80" y1="823.00" x2="45.80" y2="823.00" stroke="#1a1a1a" stroke-width="1.5" stroke-linecap="butt"/>
<text x="40.20" y="826.20" font-size="8.8" text-anchor="end" font-weight="normal" font-style="normal" fill="#1a1a1a" stroke="#1a1a1a" stroke-width="0.14">30</text>
<line x1="40.80" y1="802.40" x2="45.80" y2="802.40" stroke="#1a1a1a" stroke-width="1.5" stroke-linecap="butt"/>
<text x="40.20" y="805.60" font-size="8.8" text-anchor="end" font-weight="normal" font-style="normal" fill="#1a1a1a" stroke="#1a1a1a" stroke-width="0.14">40</text>
<line x1="40.80" y1="781.80" x2="45.80" y2="781.80" stroke="#1a1a1a" stroke-width="1.5" stroke-linecap="butt"/>
<text x="40.20" y="785.00" font-size="8.8" text-anchor="end" font-weight="normal" font-style="normal" fill="#1a1a1a" stroke="#1a1a1a" stroke-width="0.14">50</text>
<line x1="70.20" y1="884.80" x2="70.20" y2="889.60" stroke="#1a1a1a" stroke-width="1.5" stroke-linecap="butt"/>
<line x1="125.00" y1="884.80" x2="125.00" y2="889.60" stroke="#1a1a1a" stroke-width="1.5" stroke-linecap="butt"/>
<text x="67.00" y="899.00" font-size="10.8" text-anchor="middle" font-weight="normal" font-style="normal" fill="#1a1a1a" stroke="#1a1a1a" stroke-width="0.14">-GPX4i</text>
<text x="123.80" y="899.00" font-size="10.8" text-anchor="middle" font-weight="normal" font-style="normal" fill="#1a1a1a" stroke="#1a1a1a" stroke-width="0.14">+GPX4i</text>
<text x="24.50" y="830.00" font-size="10.4" text-anchor="middle" font-weight="normal" font-style="normal" fill="#1a1a1a" stroke="#1a1a1a" stroke-width="0.14" transform="rotate(-90 24.50 830.00)">Viability of CD8<tspan dy="3" font-size="6.5">+</tspan><tspan dy="-3"> T cells (%)</tspan></text>
<rect x="53.90" y="824.93" width="12.20" height="59.87" fill="#fff" stroke="#1a1a1a" stroke-width="1.8"/>
<rect x="74.70" y="809.48" width="11.60" height="75.32" fill="#fff" stroke="#1a1a1a" stroke-width="1.8"/>
<rect x="108.30" y="883.64" width="12.10" height="1.16" fill="#fff" stroke="#1a1a1a" stroke-width="1.8"/>
<rect x="128.50" y="885.08" width="12.10" height="-0.28" fill="#fff" stroke="#1a1a1a" stroke-width="1.8"/>
<line x1="60.00" y1="826.50" x2="60.00" y2="821.56" stroke="#1a1a1a" stroke-width="1.1" stroke-linecap="butt"/>
<line x1="56.00" y1="821.56" x2="64.00" y2="821.56" stroke="#1a1a1a" stroke-width="1.1" stroke-linecap="butt"/>
<line x1="56.00" y1="826.50" x2="64.00" y2="826.50" stroke="#1a1a1a" stroke-width="1.1" stroke-linecap="butt"/>
<line x1="56.00" y1="824.03" x2="64.00" y2="824.03" stroke="#1a1a1a" stroke-width="1.1" stroke-linecap="butt"/>
<line x1="80.50" y1="813.73" x2="80.50" y2="803.43" stroke="#e046f2" stroke-width="1.1" stroke-linecap="butt"/>
<line x1="76.50" y1="803.43" x2="84.50" y2="803.43" stroke="#e046f2" stroke-width="1.1" stroke-linecap="butt"/>
<line x1="76.50" y1="813.73" x2="84.50" y2="813.73" stroke="#e046f2" stroke-width="1.1" stroke-linecap="butt"/>
<line x1="76.50" y1="808.58" x2="84.50" y2="808.58" stroke="#e046f2" stroke-width="1.1" stroke-linecap="butt"/>
<line x1="114.30" y1="882.95" x2="114.30" y2="882.53" stroke="#1a1a1a" stroke-width="1.1" stroke-linecap="butt"/>
<line x1="110.30" y1="882.53" x2="118.30" y2="882.53" stroke="#1a1a1a" stroke-width="1.1" stroke-linecap="butt"/>
<line x1="110.30" y1="882.95" x2="118.30" y2="882.95" stroke="#1a1a1a" stroke-width="1.1" stroke-linecap="butt"/>
<line x1="110.30" y1="882.74" x2="118.30" y2="882.74" stroke="#1a1a1a" stroke-width="1.1" stroke-linecap="butt"/>
<line x1="134.50" y1="884.39" x2="134.50" y2="883.98" stroke="#e046f2" stroke-width="1.1" stroke-linecap="butt"/>
<line x1="130.50" y1="883.98" x2="138.50" y2="883.98" stroke="#e046f2" stroke-width="1.1" stroke-linecap="butt"/>
<line x1="130.50" y1="884.39" x2="138.50" y2="884.39" stroke="#e046f2" stroke-width="1.1" stroke-linecap="butt"/>
<line x1="130.50" y1="884.18" x2="138.50" y2="884.18" stroke="#e046f2" stroke-width="1.1" stroke-linecap="butt"/>
<rect x="57.40" y="816.28" width="5.2" height="5.2" fill="none" stroke="#1a1a1a" stroke-width="1.3"/>
<rect x="52.90" y="823.49" width="5.2" height="5.2" fill="none" stroke="#1a1a1a" stroke-width="1.3"/>
<rect x="61.90" y="823.49" width="5.2" height="5.2" fill="none" stroke="#1a1a1a" stroke-width="1.3"/>
<circle cx="80.50" cy="798.28" r="2.6" fill="none" stroke="#e046f2" stroke-width="1.3"/>
<circle cx="80.50" cy="807.55" r="2.6" fill="none" stroke="#e046f2" stroke-width="1.3"/>
<circle cx="80.50" cy="816.82" r="2.6" fill="none" stroke="#e046f2" stroke-width="1.3"/>
<rect x="107.40" y="880.14" width="5.2" height="5.2" fill="none" stroke="#1a1a1a" stroke-width="1.3"/>
<rect x="111.70" y="879.73" width="5.2" height="5.2" fill="none" stroke="#1a1a1a" stroke-width="1.3"/>
<rect x="115.90" y="880.14" width="5.2" height="5.2" fill="none" stroke="#1a1a1a" stroke-width="1.3"/>
<circle cx="130.00" cy="883.98" r="2.6" fill="none" stroke="#e046f2" stroke-width="1.3"/>
<circle cx="134.50" cy="883.56" r="2.6" fill="none" stroke="#e046f2" stroke-width="1.3"/>
<circle cx="139.00" cy="883.56" r="2.6" fill="none" stroke="#e046f2" stroke-width="1.3"/>
<polyline points="85.40,783.00 85.40,759.50 140.20,759.50 140.20,783.00" fill="none" stroke="#1a1a1a" stroke-width="1.55" stroke-linejoin="miter"/>
<polygon points="109.65,750.00 110.49,751.95 112.60,752.14 111.01,753.54 111.47,755.61 109.65,754.53 107.83,755.61 108.29,753.54 106.70,752.14 108.81,751.95" fill="#000"/>
<polygon points="115.95,750.00 116.79,751.95 118.90,752.14 117.31,753.54 117.77,755.61 115.95,754.53 114.13,755.61 114.59,753.54 113.00,752.14 115.11,751.95" fill="#000"/>
<polyline points="58.90,782.40 58.90,776.10 115.00,776.10 115.00,782.40" fill="none" stroke="#1a1a1a" stroke-width="1.55" stroke-linejoin="miter"/>
<polygon points="80.65,766.60 81.49,768.55 83.60,768.74 82.01,770.14 82.47,772.21 80.65,771.13 78.83,772.21 79.29,770.14 77.70,768.74 79.81,768.55" fill="#000"/>
<polygon points="86.95,766.60 87.79,768.55 89.90,768.74 88.31,770.14 88.77,772.21 86.95,771.13 85.13,772.21 85.59,770.14 84.00,768.74 86.11,768.55" fill="#000"/>
<polygon points="93.25,766.60 94.09,768.55 96.20,768.74 94.61,770.14 95.07,772.21 93.25,771.13 91.43,772.21 91.89,770.14 90.30,768.74 92.41,768.55" fill="#000"/>
<line x1="60.00" y1="791.30" x2="79.60" y2="791.30" stroke="#1a1a1a" stroke-width="1.55" stroke-linecap="butt"/>
<polygon points="69.80,781.80 70.64,783.75 72.75,783.94 71.16,785.34 71.62,787.41 69.80,786.33 67.98,787.41 68.44,785.34 66.85,783.94 68.96,783.75" fill="#000"/>
<rect x="142.1" y="802.3" width="4.6" height="4.6" fill="none" stroke="#1a1a1a" stroke-width="1.2"/>
<text x="151.60" y="807.20" font-size="8.7" text-anchor="start" font-weight="normal" font-style="normal" fill="#1a1a1a" stroke="#1a1a1a" stroke-width="0.14">WT</text>
<circle cx="144.4" cy="815.9" r="2.3" fill="none" stroke="#e046f2" stroke-width="1.2"/>
<text x="151.60" y="819.30" font-size="8.7" text-anchor="start" font-weight="normal" font-style="normal" fill="#1a1a1a" stroke="#1a1a1a" stroke-width="0.14">A2BR<tspan dy="-3.2" font-size="6">-/-</tspan></text>
<text x="185.60" y="759.00" font-size="16.2" text-anchor="start" font-weight="bold" font-style="normal" fill="#000" stroke="#000" stroke-width="0.3">O</text>
<line x1="223.70" y1="885.70" x2="223.70" y2="773.70" stroke="#1a1a1a" stroke-width="1.9" stroke-linecap="butt"/>
<line x1="222.75" y1="884.80" x2="333.60" y2="884.80" stroke="#1a1a1a" stroke-width="1.9" stroke-linecap="butt"/>
<line x1="218.70" y1="884.80" x2="223.70" y2="884.80" stroke="#1a1a1a" stroke-width="1.5" stroke-linecap="butt"/>
<text x="216.90" y="888.00" font-size="9.2" text-anchor="end" font-weight="normal" font-style="normal" fill="#1a1a1a" stroke="#1a1a1a" stroke-width="0.14">0</text>
<line x1="218.70" y1="857.25" x2="223.70" y2="857.25" stroke="#1a1a1a" stroke-width="1.5" stroke-linecap="butt"/>
<text x="216.90" y="860.45" font-size="9.2" text-anchor="end" font-weight="normal" font-style="normal" fill="#1a1a1a" stroke="#1a1a1a" stroke-width="0.14">20</text>
<line x1="218.70" y1="829.70" x2="223.70" y2="829.70" stroke="#1a1a1a" stroke-width="1.5" stroke-linecap="butt"/>
<text x="216.90" y="832.90" font-size="9.2" text-anchor="end" font-weight="normal" font-style="normal" fill="#1a1a1a" stroke="#1a1a1a" stroke-width="0.14">40</text>
<line x1="218.70" y1="802.15" x2="223.70" y2="802.15" stroke="#1a1a1a" stroke-width="1.5" stroke-linecap="butt"/>
<text x="216.90" y="805.35" font-size="9.2" text-anchor="end" font-weight="normal" font-style="normal" fill="#1a1a1a" stroke="#1a1a1a" stroke-width="0.14">60</text>
<line x1="218.70" y1="774.60" x2="223.70" y2="774.60" stroke="#1a1a1a" stroke-width="1.5" stroke-linecap="butt"/>
<text x="216.90" y="777.80" font-size="9.2" text-anchor="end" font-weight="normal" font-style="normal" fill="#1a1a1a" stroke="#1a1a1a" stroke-width="0.14">80</text>
<line x1="249.00" y1="884.80" x2="249.00" y2="889.60" stroke="#1a1a1a" stroke-width="1.5" stroke-linecap="butt"/>
<line x1="307.70" y1="884.80" x2="307.70" y2="889.60" stroke="#1a1a1a" stroke-width="1.5" stroke-linecap="butt"/>
<text x="249.00" y="899.00" font-size="10.8" text-anchor="middle" font-weight="normal" font-style="normal" fill="#1a1a1a" stroke="#1a1a1a" stroke-width="0.14">-GPX4i</text>
<text x="306.60" y="899.00" font-size="10.8" text-anchor="middle" font-weight="normal" font-style="normal" fill="#1a1a1a" stroke="#1a1a1a" stroke-width="0.14">+GPX4i</text>
<text x="203.80" y="830.00" font-size="10.4" text-anchor="middle" font-weight="normal" font-style="normal" fill="#1a1a1a" stroke="#1a1a1a" stroke-width="0.14" transform="rotate(-90 203.80 830.00)">GSH (mBBr) level (%)</text>
<rect x="232.20" y="807.18" width="12.60" height="77.62" fill="#fff" stroke="#1a1a1a" stroke-width="1.8"/>
<rect x="254.20" y="797.54" width="12.60" height="87.26" fill="#fff" stroke="#1a1a1a" stroke-width="1.8"/>
<rect x="289.50" y="885.29" width="13.40" height="-0.49" fill="#fff" stroke="#1a1a1a" stroke-width="1.8"/>
<rect x="312.30" y="885.29" width="13.30" height="-0.49" fill="#fff" stroke="#1a1a1a" stroke-width="1.8"/>
<line x1="238.50" y1="808.35" x2="238.50" y2="804.22" stroke="#1a1a1a" stroke-width="1.1" stroke-linecap="butt"/>
<line x1="234.50" y1="804.22" x2="242.50" y2="804.22" stroke="#1a1a1a" stroke-width="1.1" stroke-linecap="butt"/>
<line x1="234.50" y1="808.35" x2="242.50" y2="808.35" stroke="#1a1a1a" stroke-width="1.1" stroke-linecap="butt"/>
<line x1="234.50" y1="806.28" x2="242.50" y2="806.28" stroke="#1a1a1a" stroke-width="1.1" stroke-linecap="butt"/>
<line x1="260.50" y1="797.74" x2="260.50" y2="795.54" stroke="#e046f2" stroke-width="1.1" stroke-linecap="butt"/>
<line x1="256.50" y1="795.54" x2="264.50" y2="795.54" stroke="#e046f2" stroke-width="1.1" stroke-linecap="butt"/>
<line x1="256.50" y1="797.74" x2="264.50" y2="797.74" stroke="#e046f2" stroke-width="1.1" stroke-linecap="butt"/>
<line x1="256.50" y1="796.64" x2="264.50" y2="796.64" stroke="#e046f2" stroke-width="1.1" stroke-linecap="butt"/>
<rect x="230.90" y="799.55" width="5.2" height="5.2" fill="none" stroke="#1a1a1a" stroke-width="1.3"/>
<rect x="240.40" y="801.62" width="5.2" height="5.2" fill="none" stroke="#1a1a1a" stroke-width="1.3"/>
<rect x="235.90" y="809.19" width="5.2" height="5.2" fill="none" stroke="#1a1a1a" stroke-width="1.3"/>
<rect x="235.90" y="803.68" width="5.2" height="5.2" fill="none" stroke="#1a1a1a" stroke-width="1.3"/>
<circle cx="260.50" cy="792.51" r="2.6" fill="none" stroke="#e046f2" stroke-width="1.3"/>
<circle cx="255.50" cy="796.64" r="2.6" fill="none" stroke="#e046f2" stroke-width="1.3"/>
<circle cx="265.50" cy="796.64" r="2.6" fill="none" stroke="#e046f2" stroke-width="1.3"/>
<rect x="290.40" y="881.10" width="5.2" height="5.2" fill="none" stroke="#1a1a1a" stroke-width="1.3"/>
<rect x="295.10" y="881.10" width="5.2" height="5.2" fill="none" stroke="#1a1a1a" stroke-width="1.3"/>
<rect x="299.80" y="881.10" width="5.2" height="5.2" fill="none" stroke="#1a1a1a" stroke-width="1.3"/>
<circle cx="314.00" cy="883.70" r="2.6" fill="none" stroke="#e046f2" stroke-width="1.3"/>
<circle cx="319.00" cy="883.70" r="2.6" fill="none" stroke="#e046f2" stroke-width="1.3"/>
<circle cx="324.00" cy="883.70" r="2.6" fill="none" stroke="#e046f2" stroke-width="1.3"/>
<polyline points="265.90,775.90 265.90,750.10 324.50,750.10 324.50,775.90" fill="none" stroke="#1a1a1a" stroke-width="1.55" stroke-linejoin="miter"/>
<polygon points="292.05,740.60 292.89,742.55 295.00,742.74 293.41,744.14 293.87,746.21 292.05,745.13 290.23,746.21 290.69,744.14 289.10,742.74 291.21,742.55" fill="#000"/>
<polygon points="298.35,740.60 299.19,742.55 301.30,742.74 299.71,744.14 300.17,746.21 298.35,745.13 296.53,746.21 296.99,744.14 295.40,742.74 297.51,742.55" fill="#000"/>
<polyline points="237.60,774.10 237.60,767.80 296.70,767.80 296.70,774.10" fill="none" stroke="#1a1a1a" stroke-width="1.55" stroke-linejoin="miter"/>
<polygon points="260.85,758.30 261.69,760.25 263.80,760.44 262.21,761.84 262.67,763.91 260.85,762.83 259.03,763.91 259.49,761.84 257.90,760.44 260.01,760.25" fill="#000"/>
<polygon points="267.15,758.30 267.99,760.25 270.10,760.44 268.51,761.84 268.97,763.91 267.15,762.83 265.33,763.91 265.79,761.84 264.20,760.44 266.31,760.25" fill="#000"/>
<polygon points="273.45,758.30 274.29,760.25 276.40,760.44 274.81,761.84 275.27,763.91 273.45,762.83 271.63,763.91 272.09,761.84 270.50,760.44 272.61,760.25" fill="#000"/>
<line x1="238.60" y1="784.20" x2="259.60" y2="784.20" stroke="#1a1a1a" stroke-width="1.55" stroke-linecap="butt"/>
<polygon points="249.10,774.70 249.94,776.65 252.05,776.84 250.46,778.24 250.92,780.31 249.10,779.23 247.28,780.31 247.74,778.24 246.15,776.84 248.26,776.65" fill="#000"/>
<text x="-0.20" y="593.00" font-size="16.2" text-anchor="start" font-weight="bold" font-style="normal" fill="#000" stroke="#000" stroke-width="0.3">L</text>
<text x="78.20" y="591.50" font-size="12" text-anchor="middle" font-weight="normal" font-style="normal" fill="#1a1a1a" stroke="#1a1a1a" stroke-width="0.14">WT</text>
<text x="209.80" y="591.50" font-size="12" text-anchor="middle" font-weight="normal" font-style="normal" fill="#1a1a1a" stroke="#1a1a1a" stroke-width="0.14">WT +<tspan font-style="italic">&#945;</tspan>4-1BB</text>
<text x="339.40" y="591.50" font-size="12" text-anchor="middle" font-weight="normal" font-style="normal" fill="#1a1a1a" stroke="#1a1a1a" stroke-width="0.14">A2BR<tspan dy="-4" font-size="7.5">-/-</tspan></text>
<text x="469.60" y="591.50" font-size="12" text-anchor="middle" font-weight="normal" font-style="normal" fill="#1a1a1a" stroke="#1a1a1a" stroke-width="0.14">A2BR<tspan dy="-4" font-size="7">-/-</tspan><tspan dy="4"> + </tspan><tspan font-style="italic">&#945;</tspan>4-1BB</text>
</svg></body></html>
